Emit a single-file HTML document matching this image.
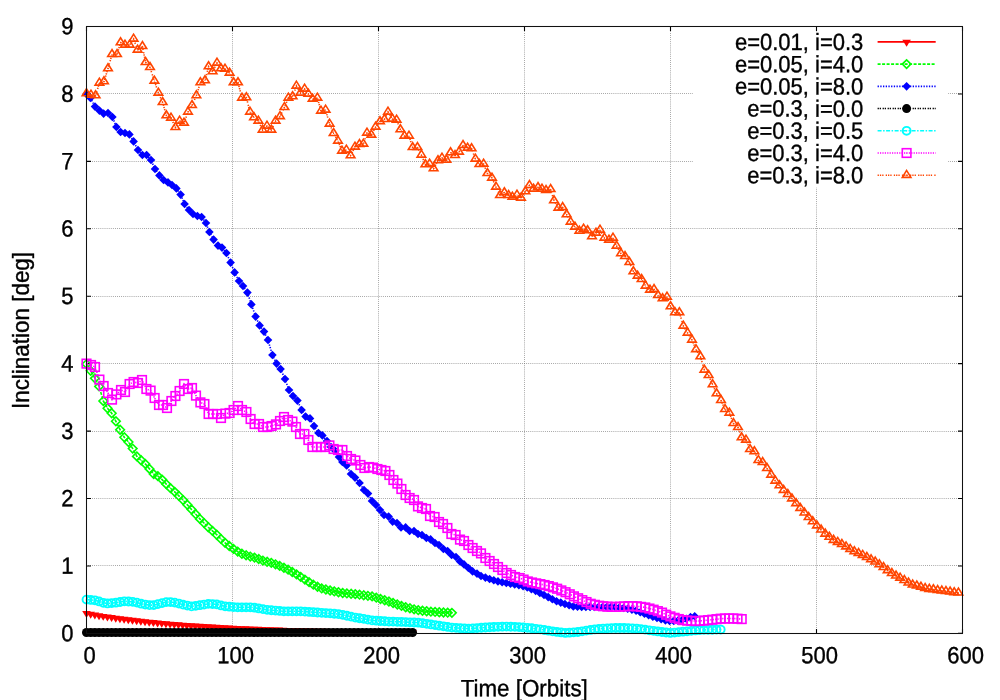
<!DOCTYPE html>
<html><head><meta charset="utf-8"><title>Inclination vs Time</title>
<style>
html,body{margin:0;padding:0;background:#fff;}
body{width:1000px;height:700px;overflow:hidden;}
svg{display:block;will-change:transform;opacity:0.999;}
text{font-family:"Liberation Sans",sans-serif;font-size:22px;fill:#000;stroke:#000;stroke-width:0.35px;}
</style></head><body>
<svg width="1000" height="700" viewBox="0 0 1000 700">
<rect x="0" y="0" width="1000" height="700" fill="#ffffff"/>
<g><path d="M88 565.50H962.5" stroke="#707070" stroke-width="0.75" stroke-dasharray="0.8,1.277" fill="none"/><path d="M88 498.50H962.5" stroke="#707070" stroke-width="0.75" stroke-dasharray="0.8,1.277" fill="none"/><path d="M88 431.50H962.5" stroke="#707070" stroke-width="0.75" stroke-dasharray="0.8,1.277" fill="none"/><path d="M88 363.50H962.5" stroke="#707070" stroke-width="0.75" stroke-dasharray="0.8,1.277" fill="none"/><path d="M88 296.50H962.5" stroke="#707070" stroke-width="0.75" stroke-dasharray="0.8,1.277" fill="none"/><path d="M88 228.50H962.5" stroke="#707070" stroke-width="0.75" stroke-dasharray="0.8,1.277" fill="none"/><path d="M88 161.50H962.5" stroke="#707070" stroke-width="0.75" stroke-dasharray="0.8,1.277" fill="none"/><path d="M88 93.50H962.5" stroke="#707070" stroke-width="0.75" stroke-dasharray="0.8,1.277" fill="none"/><path d="M232.50 632V26.5" stroke="#707070" stroke-width="0.75" stroke-dasharray="0.8,1.277" fill="none"/><path d="M378.50 632V26.5" stroke="#707070" stroke-width="0.75" stroke-dasharray="0.8,1.277" fill="none"/><path d="M524.50 632V26.5" stroke="#707070" stroke-width="0.75" stroke-dasharray="0.8,1.277" fill="none"/><path d="M670.50 632V26.5" stroke="#707070" stroke-width="0.75" stroke-dasharray="0.8,1.277" fill="none"/><path d="M816.50 632V26.5" stroke="#707070" stroke-width="0.75" stroke-dasharray="0.8,1.277" fill="none"/></g>
<g><path d="M86.5 633.40h4.5M962.5 633.40h-4.5" stroke="#000" stroke-width="1.1"/><text transform="translate(73.40,641.20) rotate(0.03) scale(1,1.07)" text-anchor="end">0</text><path d="M86.5 565.97h4.5M962.5 565.97h-4.5" stroke="#000" stroke-width="1.1"/><text transform="translate(73.40,573.77) rotate(0.03) scale(1,1.07)" text-anchor="end">1</text><path d="M86.5 498.53h4.5M962.5 498.53h-4.5" stroke="#000" stroke-width="1.1"/><text transform="translate(73.40,506.33) rotate(0.03) scale(1,1.07)" text-anchor="end">2</text><path d="M86.5 431.10h4.5M962.5 431.10h-4.5" stroke="#000" stroke-width="1.1"/><text transform="translate(73.40,438.90) rotate(0.03) scale(1,1.07)" text-anchor="end">3</text><path d="M86.5 363.67h4.5M962.5 363.67h-4.5" stroke="#000" stroke-width="1.1"/><text transform="translate(73.40,371.47) rotate(0.03) scale(1,1.07)" text-anchor="end">4</text><path d="M86.5 296.23h4.5M962.5 296.23h-4.5" stroke="#000" stroke-width="1.1"/><text transform="translate(73.40,304.03) rotate(0.03) scale(1,1.07)" text-anchor="end">5</text><path d="M86.5 228.80h4.5M962.5 228.80h-4.5" stroke="#000" stroke-width="1.1"/><text transform="translate(73.40,236.60) rotate(0.03) scale(1,1.07)" text-anchor="end">6</text><path d="M86.5 161.37h4.5M962.5 161.37h-4.5" stroke="#000" stroke-width="1.1"/><text transform="translate(73.40,169.17) rotate(0.03) scale(1,1.07)" text-anchor="end">7</text><path d="M86.5 93.93h4.5M962.5 93.93h-4.5" stroke="#000" stroke-width="1.1"/><text transform="translate(73.40,101.73) rotate(0.03) scale(1,1.07)" text-anchor="end">8</text><path d="M86.5 26.50h4.5M962.5 26.50h-4.5" stroke="#000" stroke-width="1.1"/><text transform="translate(73.40,34.30) rotate(0.03) scale(1,1.07)" text-anchor="end">9</text><path d="M86.50 633.5v-4.5M86.50 26.5v4.5" stroke="#000" stroke-width="1.1"/><text transform="translate(89.70,663.30) rotate(0.03) scale(1,1.07)" text-anchor="middle">0</text><path d="M232.50 633.5v-4.5M232.50 26.5v4.5" stroke="#000" stroke-width="1.1"/><text transform="translate(235.70,663.30) rotate(0.03) scale(1,1.07)" text-anchor="middle">100</text><path d="M378.50 633.5v-4.5M378.50 26.5v4.5" stroke="#000" stroke-width="1.1"/><text transform="translate(381.70,663.30) rotate(0.03) scale(1,1.07)" text-anchor="middle">200</text><path d="M524.50 633.5v-4.5M524.50 26.5v4.5" stroke="#000" stroke-width="1.1"/><text transform="translate(527.70,663.30) rotate(0.03) scale(1,1.07)" text-anchor="middle">300</text><path d="M670.50 633.5v-4.5M670.50 26.5v4.5" stroke="#000" stroke-width="1.1"/><text transform="translate(673.70,663.30) rotate(0.03) scale(1,1.07)" text-anchor="middle">400</text><path d="M816.50 633.5v-4.5M816.50 26.5v4.5" stroke="#000" stroke-width="1.1"/><text transform="translate(819.70,663.30) rotate(0.03) scale(1,1.07)" text-anchor="middle">500</text><path d="M962.50 633.5v-4.5M962.50 26.5v4.5" stroke="#000" stroke-width="1.1"/><text transform="translate(965.70,663.30) rotate(0.03) scale(1,1.07)" text-anchor="middle">600</text></g>
<g><path d="M86.50 613.27L90.68 614.00L94.86 614.70L99.04 615.38L103.22 616.03L107.40 616.66L111.58 617.27L115.76 617.85L119.94 618.42L124.12 618.96L128.30 619.48L132.48 619.99L136.66 620.48L140.84 620.95L145.02 621.40L149.20 621.83L153.38 622.25L157.56 622.66L161.74 623.05L165.92 623.43L170.10 623.79L174.28 624.14L178.46 624.48L182.64 624.80L186.82 625.12L191.00 625.42L195.18 625.71L199.36 625.99L203.54 626.26L207.72 626.52L211.90 626.77L216.08 627.02L220.26 627.25L224.44 627.47L228.62 627.69L232.80 627.90L236.98 628.10L241.16 628.30L245.34 628.48L249.52 628.67L253.70 628.84L257.88 629.01L262.06 629.17L266.24 629.33L270.42 629.48L274.60 629.62L278.78 629.76L282.96 629.90L287.14 630.03L291.32 630.15L295.50 630.27L299.68 630.39L303.86 630.50L308.04 630.61L312.22 630.71L316.40 630.81L320.58 630.91L324.76 631.00L328.94 631.09L333.12 631.18L337.30 631.26L341.48 631.34L345.66 631.42L349.84 631.50L354.02 631.57L358.20 631.64L362.38 631.71L366.56 631.77L370.74 631.83L374.92 631.89L379.10 631.95L383.28 632.01L387.46 632.06L391.64 632.11L395.82 632.16L400.00 632.21L404.18 632.26L408.36 632.30L412.54 632.34" fill="none" stroke="#ff0000" stroke-width="1.6"/><path d="M86.50 618.08L82.20 611.12L90.80 611.12Z" fill="#ff0000"/><path d="M90.68 618.81L86.38 611.85L94.98 611.85Z" fill="#ff0000"/><path d="M94.86 619.52L90.56 612.55L99.16 612.55Z" fill="#ff0000"/><path d="M99.04 620.19L94.74 613.23L103.34 613.23Z" fill="#ff0000"/><path d="M103.22 620.85L98.92 613.88L107.52 613.88Z" fill="#ff0000"/><path d="M107.40 621.48L103.10 614.51L111.70 614.51Z" fill="#ff0000"/><path d="M111.58 622.08L107.28 615.12L115.88 615.12Z" fill="#ff0000"/><path d="M115.76 622.67L111.46 615.70L120.06 615.70Z" fill="#ff0000"/><path d="M119.94 623.23L115.64 616.27L124.24 616.27Z" fill="#ff0000"/><path d="M124.12 623.78L119.82 616.81L128.42 616.81Z" fill="#ff0000"/><path d="M128.30 624.30L124.00 617.33L132.60 617.33Z" fill="#ff0000"/><path d="M132.48 624.80L128.18 617.84L136.78 617.84Z" fill="#ff0000"/><path d="M136.66 625.29L132.36 618.33L140.96 618.33Z" fill="#ff0000"/><path d="M140.84 625.76L136.54 618.80L145.14 618.80Z" fill="#ff0000"/><path d="M145.02 626.21L140.72 619.25L149.32 619.25Z" fill="#ff0000"/><path d="M149.20 626.65L144.90 619.68L153.50 619.68Z" fill="#ff0000"/><path d="M153.38 627.07L149.08 620.10L157.68 620.10Z" fill="#ff0000"/><path d="M157.56 627.48L153.26 620.51L161.86 620.51Z" fill="#ff0000"/><path d="M161.74 627.87L157.44 620.90L166.04 620.90Z" fill="#ff0000"/><path d="M165.92 628.24L161.62 621.28L170.22 621.28Z" fill="#ff0000"/><path d="M170.10 628.61L165.80 621.64L174.40 621.64Z" fill="#ff0000"/><path d="M174.28 628.96L169.98 621.99L178.58 621.99Z" fill="#ff0000"/><path d="M178.46 629.29L174.16 622.33L182.76 622.33Z" fill="#ff0000"/><path d="M182.64 629.62L178.34 622.65L186.94 622.65Z" fill="#ff0000"/><path d="M186.82 629.93L182.52 622.97L191.12 622.97Z" fill="#ff0000"/><path d="M191.00 630.23L186.70 623.27L195.30 623.27Z" fill="#ff0000"/><path d="M195.18 630.53L190.88 623.56L199.48 623.56Z" fill="#ff0000"/><path d="M199.36 630.81L195.06 623.84L203.66 623.84Z" fill="#ff0000"/><path d="M203.54 631.08L199.24 624.11L207.84 624.11Z" fill="#ff0000"/><path d="M207.72 631.34L203.42 624.37L212.02 624.37Z" fill="#ff0000"/><path d="M211.90 631.59L207.60 624.62L216.20 624.62Z" fill="#ff0000"/><path d="M216.08 631.83L211.78 624.87L220.38 624.87Z" fill="#ff0000"/><path d="M220.26 632.07L215.96 625.10L224.56 625.10Z" fill="#ff0000"/><path d="M224.44 632.29L220.14 625.32L228.74 625.32Z" fill="#ff0000"/><path d="M228.62 632.51L224.32 625.54L232.92 625.54Z" fill="#ff0000"/><path d="M232.80 632.72L228.50 625.75L237.10 625.75Z" fill="#ff0000"/><path d="M236.98 632.92L232.68 625.95L241.28 625.95Z" fill="#ff0000"/><path d="M241.16 633.11L236.86 626.15L245.46 626.15Z" fill="#ff0000"/><path d="M245.34 633.30L241.04 626.33L249.64 626.33Z" fill="#ff0000"/><path d="M249.52 633.48L245.22 626.52L253.82 626.52Z" fill="#ff0000"/><path d="M253.70 633.66L249.40 626.69L258.00 626.69Z" fill="#ff0000"/><path d="M257.88 633.82L253.58 626.86L262.18 626.86Z" fill="#ff0000"/><path d="M262.06 633.99L257.76 627.02L266.36 627.02Z" fill="#ff0000"/><path d="M266.24 634.14L261.94 627.18L270.54 627.18Z" fill="#ff0000"/><path d="M270.42 634.29L266.12 627.33L274.72 627.33Z" fill="#ff0000"/><path d="M274.60 634.44L270.30 627.47L278.90 627.47Z" fill="#ff0000"/><path d="M278.78 634.58L274.48 627.61L283.08 627.61Z" fill="#ff0000"/><path d="M282.96 634.71L278.66 627.75L287.26 627.75Z" fill="#ff0000"/><path d="M287.14 634.84L282.84 627.88L291.44 627.88Z" fill="#ff0000"/><path d="M291.32 634.97L287.02 628.00L295.62 628.00Z" fill="#ff0000"/><path d="M295.50 635.09L291.20 628.12L299.80 628.12Z" fill="#ff0000"/><path d="M299.68 635.20L295.38 628.24L303.98 628.24Z" fill="#ff0000"/><path d="M303.86 635.32L299.56 628.35L308.16 628.35Z" fill="#ff0000"/><path d="M308.04 635.42L303.74 628.46L312.34 628.46Z" fill="#ff0000"/><path d="M312.22 635.53L307.92 628.56L316.52 628.56Z" fill="#ff0000"/><path d="M316.40 635.63L312.10 628.66L320.70 628.66Z" fill="#ff0000"/><path d="M320.58 635.73L316.28 628.76L324.88 628.76Z" fill="#ff0000"/><path d="M324.76 635.82L320.46 628.85L329.06 628.85Z" fill="#ff0000"/><path d="M328.94 635.91L324.64 628.94L333.24 628.94Z" fill="#ff0000"/><path d="M333.12 636.00L328.82 629.03L337.42 629.03Z" fill="#ff0000"/><path d="M337.30 636.08L333.00 629.11L341.60 629.11Z" fill="#ff0000"/><path d="M341.48 636.16L337.18 629.19L345.78 629.19Z" fill="#ff0000"/><path d="M345.66 636.24L341.36 629.27L349.96 629.27Z" fill="#ff0000"/><path d="M349.84 636.31L345.54 629.35L354.14 629.35Z" fill="#ff0000"/><path d="M354.02 636.38L349.72 629.42L358.32 629.42Z" fill="#ff0000"/><path d="M358.20 636.45L353.90 629.49L362.50 629.49Z" fill="#ff0000"/><path d="M362.38 636.52L358.08 629.56L366.68 629.56Z" fill="#ff0000"/><path d="M366.56 636.59L362.26 629.62L370.86 629.62Z" fill="#ff0000"/><path d="M370.74 636.65L366.44 629.68L375.04 629.68Z" fill="#ff0000"/><path d="M374.92 636.71L370.62 629.74L379.22 629.74Z" fill="#ff0000"/><path d="M379.10 636.77L374.80 629.80L383.40 629.80Z" fill="#ff0000"/><path d="M383.28 636.82L378.98 629.86L387.58 629.86Z" fill="#ff0000"/><path d="M387.46 636.88L383.16 629.91L391.76 629.91Z" fill="#ff0000"/><path d="M391.64 636.93L387.34 629.96L395.94 629.96Z" fill="#ff0000"/><path d="M395.82 636.98L391.52 630.01L400.12 630.01Z" fill="#ff0000"/><path d="M400.00 637.03L395.70 630.06L404.30 630.06Z" fill="#ff0000"/><path d="M404.18 637.07L399.88 630.11L408.48 630.11Z" fill="#ff0000"/><path d="M408.36 637.12L404.06 630.15L412.66 630.15Z" fill="#ff0000"/><path d="M412.54 637.16L408.24 630.19L416.84 630.19Z" fill="#ff0000"/></g>
<g><path d="M86.50 364.00L90.70 370.84L94.90 378.32L99.10 386.42L103.30 401.01L107.50 408.20L111.70 413.27L115.90 421.29L120.10 429.70L124.30 437.28L128.50 442.00L132.70 448.60L136.90 456.38L141.10 460.30L145.30 463.89L149.50 468.88L153.70 474.12L157.90 476.14L162.10 479.60L166.30 484.13L170.50 488.19L174.70 491.86L178.90 495.90L183.10 500.10L187.30 504.71L191.50 509.44L195.70 514.16L199.90 518.89L204.10 523.10L208.30 527.26L212.50 530.94L216.70 534.70L220.90 538.90L225.10 542.83L229.30 545.98L233.50 548.94L237.70 551.56L241.90 553.71L246.10 555.29L250.30 556.58L254.50 557.62L258.70 559.01L262.90 560.59L267.10 561.77L271.30 562.83L275.50 564.31L279.70 565.89L283.90 567.75L288.10 569.66L292.30 571.97L296.50 574.31L300.70 576.94L304.90 579.56L309.10 582.19L313.30 584.65L317.50 586.75L321.70 588.42L325.90 589.48L330.10 590.47L334.30 591.42L338.50 592.24L342.70 592.97L346.90 593.44L351.10 593.79L355.30 594.14L359.50 594.68L363.70 595.26L367.90 595.84L372.10 596.43L376.30 597.69L380.50 598.95L384.70 600.21L388.90 601.52L393.10 602.99L397.30 604.46L401.50 605.92L405.70 607.22L409.90 608.27L414.10 609.33L418.30 610.19L422.50 610.71L426.70 611.24L430.90 611.68L435.10 611.94L439.30 612.21L443.50 612.45L447.70 612.65L451.90 612.86" fill="none" stroke="#00ff00" stroke-width="1.6" stroke-dasharray="3,1.5"/><path d="M86.50 359.70L82.20 364.00L86.50 368.30L90.80 364.00Z" fill="none" stroke="#00ff00" stroke-width="1.6"/><circle cx="86.50" cy="364.00" r="0.6" fill="#00ff00"/><path d="M90.70 366.54L86.40 370.84L90.70 375.14L95.00 370.84Z" fill="none" stroke="#00ff00" stroke-width="1.6"/><circle cx="90.70" cy="370.84" r="0.6" fill="#00ff00"/><path d="M94.90 374.02L90.60 378.32L94.90 382.62L99.20 378.32Z" fill="none" stroke="#00ff00" stroke-width="1.6"/><circle cx="94.90" cy="378.32" r="0.6" fill="#00ff00"/><path d="M99.10 382.12L94.80 386.42L99.10 390.72L103.40 386.42Z" fill="none" stroke="#00ff00" stroke-width="1.6"/><circle cx="99.10" cy="386.42" r="0.6" fill="#00ff00"/><path d="M103.30 396.71L99.00 401.01L103.30 405.31L107.60 401.01Z" fill="none" stroke="#00ff00" stroke-width="1.6"/><circle cx="103.30" cy="401.01" r="0.6" fill="#00ff00"/><path d="M107.50 403.90L103.20 408.20L107.50 412.50L111.80 408.20Z" fill="none" stroke="#00ff00" stroke-width="1.6"/><circle cx="107.50" cy="408.20" r="0.6" fill="#00ff00"/><path d="M111.70 408.97L107.40 413.27L111.70 417.57L116.00 413.27Z" fill="none" stroke="#00ff00" stroke-width="1.6"/><circle cx="111.70" cy="413.27" r="0.6" fill="#00ff00"/><path d="M115.90 416.99L111.60 421.29L115.90 425.59L120.20 421.29Z" fill="none" stroke="#00ff00" stroke-width="1.6"/><circle cx="115.90" cy="421.29" r="0.6" fill="#00ff00"/><path d="M120.10 425.40L115.80 429.70L120.10 434.00L124.40 429.70Z" fill="none" stroke="#00ff00" stroke-width="1.6"/><circle cx="120.10" cy="429.70" r="0.6" fill="#00ff00"/><path d="M124.30 432.98L120.00 437.28L124.30 441.58L128.60 437.28Z" fill="none" stroke="#00ff00" stroke-width="1.6"/><circle cx="124.30" cy="437.28" r="0.6" fill="#00ff00"/><path d="M128.50 437.70L124.20 442.00L128.50 446.30L132.80 442.00Z" fill="none" stroke="#00ff00" stroke-width="1.6"/><circle cx="128.50" cy="442.00" r="0.6" fill="#00ff00"/><path d="M132.70 444.30L128.40 448.60L132.70 452.90L137.00 448.60Z" fill="none" stroke="#00ff00" stroke-width="1.6"/><circle cx="132.70" cy="448.60" r="0.6" fill="#00ff00"/><path d="M136.90 452.07L132.60 456.38L136.90 460.68L141.20 456.38Z" fill="none" stroke="#00ff00" stroke-width="1.6"/><circle cx="136.90" cy="456.38" r="0.6" fill="#00ff00"/><path d="M141.10 456.00L136.80 460.30L141.10 464.60L145.40 460.30Z" fill="none" stroke="#00ff00" stroke-width="1.6"/><circle cx="141.10" cy="460.30" r="0.6" fill="#00ff00"/><path d="M145.30 459.59L141.00 463.89L145.30 468.19L149.60 463.89Z" fill="none" stroke="#00ff00" stroke-width="1.6"/><circle cx="145.30" cy="463.89" r="0.6" fill="#00ff00"/><path d="M149.50 464.57L145.20 468.88L149.50 473.18L153.80 468.88Z" fill="none" stroke="#00ff00" stroke-width="1.6"/><circle cx="149.50" cy="468.88" r="0.6" fill="#00ff00"/><path d="M153.70 469.82L149.40 474.12L153.70 478.43L158.00 474.12Z" fill="none" stroke="#00ff00" stroke-width="1.6"/><circle cx="153.70" cy="474.12" r="0.6" fill="#00ff00"/><path d="M157.90 471.84L153.60 476.14L157.90 480.44L162.20 476.14Z" fill="none" stroke="#00ff00" stroke-width="1.6"/><circle cx="157.90" cy="476.14" r="0.6" fill="#00ff00"/><path d="M162.10 475.30L157.80 479.60L162.10 483.90L166.40 479.60Z" fill="none" stroke="#00ff00" stroke-width="1.6"/><circle cx="162.10" cy="479.60" r="0.6" fill="#00ff00"/><path d="M166.30 479.83L162.00 484.13L166.30 488.43L170.60 484.13Z" fill="none" stroke="#00ff00" stroke-width="1.6"/><circle cx="166.30" cy="484.13" r="0.6" fill="#00ff00"/><path d="M170.50 483.89L166.20 488.19L170.50 492.49L174.80 488.19Z" fill="none" stroke="#00ff00" stroke-width="1.6"/><circle cx="170.50" cy="488.19" r="0.6" fill="#00ff00"/><path d="M174.70 487.56L170.40 491.86L174.70 496.16L179.00 491.86Z" fill="none" stroke="#00ff00" stroke-width="1.6"/><circle cx="174.70" cy="491.86" r="0.6" fill="#00ff00"/><path d="M178.90 491.60L174.60 495.90L178.90 500.20L183.20 495.90Z" fill="none" stroke="#00ff00" stroke-width="1.6"/><circle cx="178.90" cy="495.90" r="0.6" fill="#00ff00"/><path d="M183.10 495.80L178.80 500.10L183.10 504.40L187.40 500.10Z" fill="none" stroke="#00ff00" stroke-width="1.6"/><circle cx="183.10" cy="500.10" r="0.6" fill="#00ff00"/><path d="M187.30 500.41L183.00 504.71L187.30 509.01L191.60 504.71Z" fill="none" stroke="#00ff00" stroke-width="1.6"/><circle cx="187.30" cy="504.71" r="0.6" fill="#00ff00"/><path d="M191.50 505.14L187.20 509.44L191.50 513.74L195.80 509.44Z" fill="none" stroke="#00ff00" stroke-width="1.6"/><circle cx="191.50" cy="509.44" r="0.6" fill="#00ff00"/><path d="M195.70 509.86L191.40 514.16L195.70 518.46L200.00 514.16Z" fill="none" stroke="#00ff00" stroke-width="1.6"/><circle cx="195.70" cy="514.16" r="0.6" fill="#00ff00"/><path d="M199.90 514.59L195.60 518.89L199.90 523.19L204.20 518.89Z" fill="none" stroke="#00ff00" stroke-width="1.6"/><circle cx="199.90" cy="518.89" r="0.6" fill="#00ff00"/><path d="M204.10 518.80L199.80 523.10L204.10 527.40L208.40 523.10Z" fill="none" stroke="#00ff00" stroke-width="1.6"/><circle cx="204.10" cy="523.10" r="0.6" fill="#00ff00"/><path d="M208.30 522.96L204.00 527.26L208.30 531.56L212.60 527.26Z" fill="none" stroke="#00ff00" stroke-width="1.6"/><circle cx="208.30" cy="527.26" r="0.6" fill="#00ff00"/><path d="M212.50 526.64L208.20 530.94L212.50 535.24L216.80 530.94Z" fill="none" stroke="#00ff00" stroke-width="1.6"/><circle cx="212.50" cy="530.94" r="0.6" fill="#00ff00"/><path d="M216.70 530.40L212.40 534.70L216.70 539.00L221.00 534.70Z" fill="none" stroke="#00ff00" stroke-width="1.6"/><circle cx="216.70" cy="534.70" r="0.6" fill="#00ff00"/><path d="M220.90 534.60L216.60 538.90L220.90 543.20L225.20 538.90Z" fill="none" stroke="#00ff00" stroke-width="1.6"/><circle cx="220.90" cy="538.90" r="0.6" fill="#00ff00"/><path d="M225.10 538.53L220.80 542.83L225.10 547.12L229.40 542.83Z" fill="none" stroke="#00ff00" stroke-width="1.6"/><circle cx="225.10" cy="542.83" r="0.6" fill="#00ff00"/><path d="M229.30 541.68L225.00 545.98L229.30 550.27L233.60 545.98Z" fill="none" stroke="#00ff00" stroke-width="1.6"/><circle cx="229.30" cy="545.98" r="0.6" fill="#00ff00"/><path d="M233.50 544.64L229.20 548.94L233.50 553.24L237.80 548.94Z" fill="none" stroke="#00ff00" stroke-width="1.6"/><circle cx="233.50" cy="548.94" r="0.6" fill="#00ff00"/><path d="M237.70 547.26L233.40 551.56L237.70 555.86L242.00 551.56Z" fill="none" stroke="#00ff00" stroke-width="1.6"/><circle cx="237.70" cy="551.56" r="0.6" fill="#00ff00"/><path d="M241.90 549.41L237.60 553.71L241.90 558.01L246.20 553.71Z" fill="none" stroke="#00ff00" stroke-width="1.6"/><circle cx="241.90" cy="553.71" r="0.6" fill="#00ff00"/><path d="M246.10 550.99L241.80 555.29L246.10 559.59L250.40 555.29Z" fill="none" stroke="#00ff00" stroke-width="1.6"/><circle cx="246.10" cy="555.29" r="0.6" fill="#00ff00"/><path d="M250.30 552.28L246.00 556.58L250.30 560.88L254.60 556.58Z" fill="none" stroke="#00ff00" stroke-width="1.6"/><circle cx="250.30" cy="556.58" r="0.6" fill="#00ff00"/><path d="M254.50 553.33L250.20 557.62L254.50 561.92L258.80 557.62Z" fill="none" stroke="#00ff00" stroke-width="1.6"/><circle cx="254.50" cy="557.62" r="0.6" fill="#00ff00"/><path d="M258.70 554.71L254.40 559.01L258.70 563.31L263.00 559.01Z" fill="none" stroke="#00ff00" stroke-width="1.6"/><circle cx="258.70" cy="559.01" r="0.6" fill="#00ff00"/><path d="M262.90 556.29L258.60 560.59L262.90 564.89L267.20 560.59Z" fill="none" stroke="#00ff00" stroke-width="1.6"/><circle cx="262.90" cy="560.59" r="0.6" fill="#00ff00"/><path d="M267.10 557.48L262.80 561.77L267.10 566.07L271.40 561.77Z" fill="none" stroke="#00ff00" stroke-width="1.6"/><circle cx="267.10" cy="561.77" r="0.6" fill="#00ff00"/><path d="M271.30 558.53L267.00 562.83L271.30 567.12L275.60 562.83Z" fill="none" stroke="#00ff00" stroke-width="1.6"/><circle cx="271.30" cy="562.83" r="0.6" fill="#00ff00"/><path d="M275.50 560.01L271.20 564.31L275.50 568.61L279.80 564.31Z" fill="none" stroke="#00ff00" stroke-width="1.6"/><circle cx="275.50" cy="564.31" r="0.6" fill="#00ff00"/><path d="M279.70 561.59L275.40 565.89L279.70 570.19L284.00 565.89Z" fill="none" stroke="#00ff00" stroke-width="1.6"/><circle cx="279.70" cy="565.89" r="0.6" fill="#00ff00"/><path d="M283.90 563.46L279.60 567.75L283.90 572.05L288.20 567.75Z" fill="none" stroke="#00ff00" stroke-width="1.6"/><circle cx="283.90" cy="567.75" r="0.6" fill="#00ff00"/><path d="M288.10 565.36L283.80 569.66L288.10 573.96L292.40 569.66Z" fill="none" stroke="#00ff00" stroke-width="1.6"/><circle cx="288.10" cy="569.66" r="0.6" fill="#00ff00"/><path d="M292.30 567.67L288.00 571.97L292.30 576.26L296.60 571.97Z" fill="none" stroke="#00ff00" stroke-width="1.6"/><circle cx="292.30" cy="571.97" r="0.6" fill="#00ff00"/><path d="M296.50 570.01L292.20 574.31L296.50 578.61L300.80 574.31Z" fill="none" stroke="#00ff00" stroke-width="1.6"/><circle cx="296.50" cy="574.31" r="0.6" fill="#00ff00"/><path d="M300.70 572.64L296.40 576.94L300.70 581.24L305.00 576.94Z" fill="none" stroke="#00ff00" stroke-width="1.6"/><circle cx="300.70" cy="576.94" r="0.6" fill="#00ff00"/><path d="M304.90 575.26L300.60 579.56L304.90 583.86L309.20 579.56Z" fill="none" stroke="#00ff00" stroke-width="1.6"/><circle cx="304.90" cy="579.56" r="0.6" fill="#00ff00"/><path d="M309.10 577.89L304.80 582.19L309.10 586.49L313.40 582.19Z" fill="none" stroke="#00ff00" stroke-width="1.6"/><circle cx="309.10" cy="582.19" r="0.6" fill="#00ff00"/><path d="M313.30 580.35L309.00 584.65L313.30 588.95L317.60 584.65Z" fill="none" stroke="#00ff00" stroke-width="1.6"/><circle cx="313.30" cy="584.65" r="0.6" fill="#00ff00"/><path d="M317.50 582.45L313.20 586.75L317.50 591.05L321.80 586.75Z" fill="none" stroke="#00ff00" stroke-width="1.6"/><circle cx="317.50" cy="586.75" r="0.6" fill="#00ff00"/><path d="M321.70 584.12L317.40 588.42L321.70 592.72L326.00 588.42Z" fill="none" stroke="#00ff00" stroke-width="1.6"/><circle cx="321.70" cy="588.42" r="0.6" fill="#00ff00"/><path d="M325.90 585.18L321.60 589.48L325.90 593.77L330.20 589.48Z" fill="none" stroke="#00ff00" stroke-width="1.6"/><circle cx="325.90" cy="589.48" r="0.6" fill="#00ff00"/><path d="M330.10 586.17L325.80 590.47L330.10 594.77L334.40 590.47Z" fill="none" stroke="#00ff00" stroke-width="1.6"/><circle cx="330.10" cy="590.47" r="0.6" fill="#00ff00"/><path d="M334.30 587.12L330.00 591.42L334.30 595.72L338.60 591.42Z" fill="none" stroke="#00ff00" stroke-width="1.6"/><circle cx="334.30" cy="591.42" r="0.6" fill="#00ff00"/><path d="M338.50 587.94L334.20 592.24L338.50 596.54L342.80 592.24Z" fill="none" stroke="#00ff00" stroke-width="1.6"/><circle cx="338.50" cy="592.24" r="0.6" fill="#00ff00"/><path d="M342.70 588.67L338.40 592.97L342.70 597.27L347.00 592.97Z" fill="none" stroke="#00ff00" stroke-width="1.6"/><circle cx="342.70" cy="592.97" r="0.6" fill="#00ff00"/><path d="M346.90 589.14L342.60 593.44L346.90 597.74L351.20 593.44Z" fill="none" stroke="#00ff00" stroke-width="1.6"/><circle cx="346.90" cy="593.44" r="0.6" fill="#00ff00"/><path d="M351.10 589.49L346.80 593.79L351.10 598.09L355.40 593.79Z" fill="none" stroke="#00ff00" stroke-width="1.6"/><circle cx="351.10" cy="593.79" r="0.6" fill="#00ff00"/><path d="M355.30 589.84L351.00 594.14L355.30 598.44L359.60 594.14Z" fill="none" stroke="#00ff00" stroke-width="1.6"/><circle cx="355.30" cy="594.14" r="0.6" fill="#00ff00"/><path d="M359.50 590.38L355.20 594.68L359.50 598.98L363.80 594.68Z" fill="none" stroke="#00ff00" stroke-width="1.6"/><circle cx="359.50" cy="594.68" r="0.6" fill="#00ff00"/><path d="M363.70 590.96L359.40 595.26L363.70 599.56L368.00 595.26Z" fill="none" stroke="#00ff00" stroke-width="1.6"/><circle cx="363.70" cy="595.26" r="0.6" fill="#00ff00"/><path d="M367.90 591.54L363.60 595.84L367.90 600.14L372.20 595.84Z" fill="none" stroke="#00ff00" stroke-width="1.6"/><circle cx="367.90" cy="595.84" r="0.6" fill="#00ff00"/><path d="M372.10 592.13L367.80 596.43L372.10 600.73L376.40 596.43Z" fill="none" stroke="#00ff00" stroke-width="1.6"/><circle cx="372.10" cy="596.43" r="0.6" fill="#00ff00"/><path d="M376.30 593.39L372.00 597.69L376.30 601.99L380.60 597.69Z" fill="none" stroke="#00ff00" stroke-width="1.6"/><circle cx="376.30" cy="597.69" r="0.6" fill="#00ff00"/><path d="M380.50 594.65L376.20 598.95L380.50 603.25L384.80 598.95Z" fill="none" stroke="#00ff00" stroke-width="1.6"/><circle cx="380.50" cy="598.95" r="0.6" fill="#00ff00"/><path d="M384.70 595.91L380.40 600.21L384.70 604.51L389.00 600.21Z" fill="none" stroke="#00ff00" stroke-width="1.6"/><circle cx="384.70" cy="600.21" r="0.6" fill="#00ff00"/><path d="M388.90 597.22L384.60 601.52L388.90 605.82L393.20 601.52Z" fill="none" stroke="#00ff00" stroke-width="1.6"/><circle cx="388.90" cy="601.52" r="0.6" fill="#00ff00"/><path d="M393.10 598.69L388.80 602.99L393.10 607.28L397.40 602.99Z" fill="none" stroke="#00ff00" stroke-width="1.6"/><circle cx="393.10" cy="602.99" r="0.6" fill="#00ff00"/><path d="M397.30 600.16L393.00 604.46L397.30 608.75L401.60 604.46Z" fill="none" stroke="#00ff00" stroke-width="1.6"/><circle cx="397.30" cy="604.46" r="0.6" fill="#00ff00"/><path d="M401.50 601.62L397.20 605.92L401.50 610.22L405.80 605.92Z" fill="none" stroke="#00ff00" stroke-width="1.6"/><circle cx="401.50" cy="605.92" r="0.6" fill="#00ff00"/><path d="M405.70 602.92L401.40 607.22L405.70 611.52L410.00 607.22Z" fill="none" stroke="#00ff00" stroke-width="1.6"/><circle cx="405.70" cy="607.22" r="0.6" fill="#00ff00"/><path d="M409.90 603.98L405.60 608.27L409.90 612.57L414.20 608.27Z" fill="none" stroke="#00ff00" stroke-width="1.6"/><circle cx="409.90" cy="608.27" r="0.6" fill="#00ff00"/><path d="M414.10 605.03L409.80 609.33L414.10 613.62L418.40 609.33Z" fill="none" stroke="#00ff00" stroke-width="1.6"/><circle cx="414.10" cy="609.33" r="0.6" fill="#00ff00"/><path d="M418.30 605.89L414.00 610.19L418.30 614.49L422.60 610.19Z" fill="none" stroke="#00ff00" stroke-width="1.6"/><circle cx="418.30" cy="610.19" r="0.6" fill="#00ff00"/><path d="M422.50 606.41L418.20 610.71L422.50 615.01L426.80 610.71Z" fill="none" stroke="#00ff00" stroke-width="1.6"/><circle cx="422.50" cy="610.71" r="0.6" fill="#00ff00"/><path d="M426.70 606.94L422.40 611.24L426.70 615.54L431.00 611.24Z" fill="none" stroke="#00ff00" stroke-width="1.6"/><circle cx="426.70" cy="611.24" r="0.6" fill="#00ff00"/><path d="M430.90 607.38L426.60 611.68L430.90 615.98L435.20 611.68Z" fill="none" stroke="#00ff00" stroke-width="1.6"/><circle cx="430.90" cy="611.68" r="0.6" fill="#00ff00"/><path d="M435.10 607.64L430.80 611.94L435.10 616.24L439.40 611.94Z" fill="none" stroke="#00ff00" stroke-width="1.6"/><circle cx="435.10" cy="611.94" r="0.6" fill="#00ff00"/><path d="M439.30 607.91L435.00 612.21L439.30 616.51L443.60 612.21Z" fill="none" stroke="#00ff00" stroke-width="1.6"/><circle cx="439.30" cy="612.21" r="0.6" fill="#00ff00"/><path d="M443.50 608.15L439.20 612.45L443.50 616.75L447.80 612.45Z" fill="none" stroke="#00ff00" stroke-width="1.6"/><circle cx="443.50" cy="612.45" r="0.6" fill="#00ff00"/><path d="M447.70 608.35L443.40 612.65L447.70 616.95L452.00 612.65Z" fill="none" stroke="#00ff00" stroke-width="1.6"/><circle cx="447.70" cy="612.65" r="0.6" fill="#00ff00"/><path d="M451.90 608.56L447.60 612.86L451.90 617.16L456.20 612.86Z" fill="none" stroke="#00ff00" stroke-width="1.6"/><circle cx="451.90" cy="612.86" r="0.6" fill="#00ff00"/></g>
<g><path d="M86.50 94.00L90.40 98.00L95.00 106.60L99.40 110.60L103.60 113.60L108.00 113.00L112.40 117.00L116.40 127.00L120.60 132.00L125.00 133.00L129.40 134.40L133.60 141.40L138.00 150.00L142.40 155.00L146.60 155.00L151.00 160.00L155.00 169.00L159.40 175.40L163.60 180.00L168.00 182.40L172.00 185.00L176.40 188.40L180.60 194.60L184.60 204.00L189.00 210.00L193.00 214.00L197.40 216.00L201.60 217.00L206.00 223.00L209.40 232.00L213.60 239.60L218.00 245.60L222.00 247.60L226.40 253.00L230.60 262.60L234.60 272.40L239.00 281.00L243.00 286.00L247.40 292.60L251.40 304.40L255.60 316.60L259.60 325.40L264.00 331.60L268.00 340.00L272.40 355.00L276.60 363.60L280.60 369.00L285.00 379.00L289.00 390.00L293.00 396.00L297.40 400.60L301.60 410.00L305.60 416.60L310.00 418.40L314.00 426.00L318.40 433.00L322.40 435.40L327.00 441.00L331.00 447.00L335.40 451.00L339.00 457.00L342.40 462.00L346.60 465.40L351.00 474.00L355.00 477.60L359.60 483.00L364.00 490.00L368.00 493.60L372.00 501.00L376.00 505.00L380.00 510.00L384.00 515.00L388.60 516.60L392.60 521.60L397.00 523.00L401.00 527.40L405.60 527.40L409.60 531.00L414.00 531.00L418.00 534.00L422.00 535.00L426.40 538.00L430.60 539.40L435.00 543.00L439.00 545.00L443.40 549.00L447.60 551.00L451.60 555.00L456.00 557.00L460.00 561.40L464.00 564.40L468.40 568.00L472.60 571.40L477.00 573.60L481.00 576.00L485.40 577.60L489.60 579.00L493.79 580.31L497.97 581.39L502.16 582.23L506.34 583.05L510.53 583.72L514.71 584.39L518.90 585.30L523.09 586.30L527.27 587.51L531.46 589.18L535.64 590.86L539.83 592.91L544.01 595.01L548.20 597.10L552.39 599.19L556.57 601.19L560.76 602.62L564.94 604.04L569.13 605.26L573.31 606.41L577.50 606.74L581.69 606.91L585.87 607.00L590.06 607.00L594.24 607.00L598.43 607.00L602.61 607.00L606.80 607.00L610.99 607.00L615.17 607.12L619.36 607.54L623.54 607.95L627.73 608.75L631.91 609.58L636.10 610.74L640.29 612.20L644.47 613.67L648.66 615.19L652.84 616.67L657.03 618.03L661.21 619.30L665.40 620.35L669.59 621.00L673.77 621.00L677.96 620.66L682.14 619.93L686.33 618.73L690.51 617.16L694.70 616.31" fill="none" stroke="#0000ff" stroke-width="1.6" stroke-dasharray="1.3,1.4"/><path d="M86.50 89.70L82.20 94.00L86.50 98.30L90.80 94.00Z" fill="#0000ff"/><path d="M90.40 93.70L86.10 98.00L90.40 102.30L94.70 98.00Z" fill="#0000ff"/><path d="M95.00 102.30L90.70 106.60L95.00 110.90L99.30 106.60Z" fill="#0000ff"/><path d="M99.40 106.30L95.10 110.60L99.40 114.90L103.70 110.60Z" fill="#0000ff"/><path d="M103.60 109.30L99.30 113.60L103.60 117.90L107.90 113.60Z" fill="#0000ff"/><path d="M108.00 108.70L103.70 113.00L108.00 117.30L112.30 113.00Z" fill="#0000ff"/><path d="M112.40 112.70L108.10 117.00L112.40 121.30L116.70 117.00Z" fill="#0000ff"/><path d="M116.40 122.70L112.10 127.00L116.40 131.30L120.70 127.00Z" fill="#0000ff"/><path d="M120.60 127.70L116.30 132.00L120.60 136.30L124.90 132.00Z" fill="#0000ff"/><path d="M125.00 128.70L120.70 133.00L125.00 137.30L129.30 133.00Z" fill="#0000ff"/><path d="M129.40 130.10L125.10 134.40L129.40 138.70L133.70 134.40Z" fill="#0000ff"/><path d="M133.60 137.10L129.30 141.40L133.60 145.70L137.90 141.40Z" fill="#0000ff"/><path d="M138.00 145.70L133.70 150.00L138.00 154.30L142.30 150.00Z" fill="#0000ff"/><path d="M142.40 150.70L138.10 155.00L142.40 159.30L146.70 155.00Z" fill="#0000ff"/><path d="M146.60 150.70L142.30 155.00L146.60 159.30L150.90 155.00Z" fill="#0000ff"/><path d="M151.00 155.70L146.70 160.00L151.00 164.30L155.30 160.00Z" fill="#0000ff"/><path d="M155.00 164.70L150.70 169.00L155.00 173.30L159.30 169.00Z" fill="#0000ff"/><path d="M159.40 171.10L155.10 175.40L159.40 179.70L163.70 175.40Z" fill="#0000ff"/><path d="M163.60 175.70L159.30 180.00L163.60 184.30L167.90 180.00Z" fill="#0000ff"/><path d="M168.00 178.10L163.70 182.40L168.00 186.70L172.30 182.40Z" fill="#0000ff"/><path d="M172.00 180.70L167.70 185.00L172.00 189.30L176.30 185.00Z" fill="#0000ff"/><path d="M176.40 184.10L172.10 188.40L176.40 192.70L180.70 188.40Z" fill="#0000ff"/><path d="M180.60 190.30L176.30 194.60L180.60 198.90L184.90 194.60Z" fill="#0000ff"/><path d="M184.60 199.70L180.30 204.00L184.60 208.30L188.90 204.00Z" fill="#0000ff"/><path d="M189.00 205.70L184.70 210.00L189.00 214.30L193.30 210.00Z" fill="#0000ff"/><path d="M193.00 209.70L188.70 214.00L193.00 218.30L197.30 214.00Z" fill="#0000ff"/><path d="M197.40 211.70L193.10 216.00L197.40 220.30L201.70 216.00Z" fill="#0000ff"/><path d="M201.60 212.70L197.30 217.00L201.60 221.30L205.90 217.00Z" fill="#0000ff"/><path d="M206.00 218.70L201.70 223.00L206.00 227.30L210.30 223.00Z" fill="#0000ff"/><path d="M209.40 227.70L205.10 232.00L209.40 236.30L213.70 232.00Z" fill="#0000ff"/><path d="M213.60 235.30L209.30 239.60L213.60 243.90L217.90 239.60Z" fill="#0000ff"/><path d="M218.00 241.30L213.70 245.60L218.00 249.90L222.30 245.60Z" fill="#0000ff"/><path d="M222.00 243.30L217.70 247.60L222.00 251.90L226.30 247.60Z" fill="#0000ff"/><path d="M226.40 248.70L222.10 253.00L226.40 257.30L230.70 253.00Z" fill="#0000ff"/><path d="M230.60 258.30L226.30 262.60L230.60 266.90L234.90 262.60Z" fill="#0000ff"/><path d="M234.60 268.10L230.30 272.40L234.60 276.70L238.90 272.40Z" fill="#0000ff"/><path d="M239.00 276.70L234.70 281.00L239.00 285.30L243.30 281.00Z" fill="#0000ff"/><path d="M243.00 281.70L238.70 286.00L243.00 290.30L247.30 286.00Z" fill="#0000ff"/><path d="M247.40 288.30L243.10 292.60L247.40 296.90L251.70 292.60Z" fill="#0000ff"/><path d="M251.40 300.10L247.10 304.40L251.40 308.70L255.70 304.40Z" fill="#0000ff"/><path d="M255.60 312.30L251.30 316.60L255.60 320.90L259.90 316.60Z" fill="#0000ff"/><path d="M259.60 321.10L255.30 325.40L259.60 329.70L263.90 325.40Z" fill="#0000ff"/><path d="M264.00 327.30L259.70 331.60L264.00 335.90L268.30 331.60Z" fill="#0000ff"/><path d="M268.00 335.70L263.70 340.00L268.00 344.30L272.30 340.00Z" fill="#0000ff"/><path d="M272.40 350.70L268.10 355.00L272.40 359.30L276.70 355.00Z" fill="#0000ff"/><path d="M276.60 359.30L272.30 363.60L276.60 367.90L280.90 363.60Z" fill="#0000ff"/><path d="M280.60 364.70L276.30 369.00L280.60 373.30L284.90 369.00Z" fill="#0000ff"/><path d="M285.00 374.70L280.70 379.00L285.00 383.30L289.30 379.00Z" fill="#0000ff"/><path d="M289.00 385.70L284.70 390.00L289.00 394.30L293.30 390.00Z" fill="#0000ff"/><path d="M293.00 391.70L288.70 396.00L293.00 400.30L297.30 396.00Z" fill="#0000ff"/><path d="M297.40 396.30L293.10 400.60L297.40 404.90L301.70 400.60Z" fill="#0000ff"/><path d="M301.60 405.70L297.30 410.00L301.60 414.30L305.90 410.00Z" fill="#0000ff"/><path d="M305.60 412.30L301.30 416.60L305.60 420.90L309.90 416.60Z" fill="#0000ff"/><path d="M310.00 414.10L305.70 418.40L310.00 422.70L314.30 418.40Z" fill="#0000ff"/><path d="M314.00 421.70L309.70 426.00L314.00 430.30L318.30 426.00Z" fill="#0000ff"/><path d="M318.40 428.70L314.10 433.00L318.40 437.30L322.70 433.00Z" fill="#0000ff"/><path d="M322.40 431.10L318.10 435.40L322.40 439.70L326.70 435.40Z" fill="#0000ff"/><path d="M327.00 436.70L322.70 441.00L327.00 445.30L331.30 441.00Z" fill="#0000ff"/><path d="M331.00 442.70L326.70 447.00L331.00 451.30L335.30 447.00Z" fill="#0000ff"/><path d="M335.40 446.70L331.10 451.00L335.40 455.30L339.70 451.00Z" fill="#0000ff"/><path d="M339.00 452.70L334.70 457.00L339.00 461.30L343.30 457.00Z" fill="#0000ff"/><path d="M342.40 457.70L338.10 462.00L342.40 466.30L346.70 462.00Z" fill="#0000ff"/><path d="M346.60 461.10L342.30 465.40L346.60 469.70L350.90 465.40Z" fill="#0000ff"/><path d="M351.00 469.70L346.70 474.00L351.00 478.30L355.30 474.00Z" fill="#0000ff"/><path d="M355.00 473.30L350.70 477.60L355.00 481.90L359.30 477.60Z" fill="#0000ff"/><path d="M359.60 478.70L355.30 483.00L359.60 487.30L363.90 483.00Z" fill="#0000ff"/><path d="M364.00 485.70L359.70 490.00L364.00 494.30L368.30 490.00Z" fill="#0000ff"/><path d="M368.00 489.30L363.70 493.60L368.00 497.90L372.30 493.60Z" fill="#0000ff"/><path d="M372.00 496.70L367.70 501.00L372.00 505.30L376.30 501.00Z" fill="#0000ff"/><path d="M376.00 500.70L371.70 505.00L376.00 509.30L380.30 505.00Z" fill="#0000ff"/><path d="M380.00 505.70L375.70 510.00L380.00 514.30L384.30 510.00Z" fill="#0000ff"/><path d="M384.00 510.70L379.70 515.00L384.00 519.30L388.30 515.00Z" fill="#0000ff"/><path d="M388.60 512.30L384.30 516.60L388.60 520.90L392.90 516.60Z" fill="#0000ff"/><path d="M392.60 517.30L388.30 521.60L392.60 525.90L396.90 521.60Z" fill="#0000ff"/><path d="M397.00 518.70L392.70 523.00L397.00 527.30L401.30 523.00Z" fill="#0000ff"/><path d="M401.00 523.10L396.70 527.40L401.00 531.70L405.30 527.40Z" fill="#0000ff"/><path d="M405.60 523.10L401.30 527.40L405.60 531.70L409.90 527.40Z" fill="#0000ff"/><path d="M409.60 526.70L405.30 531.00L409.60 535.30L413.90 531.00Z" fill="#0000ff"/><path d="M414.00 526.70L409.70 531.00L414.00 535.30L418.30 531.00Z" fill="#0000ff"/><path d="M418.00 529.70L413.70 534.00L418.00 538.30L422.30 534.00Z" fill="#0000ff"/><path d="M422.00 530.70L417.70 535.00L422.00 539.30L426.30 535.00Z" fill="#0000ff"/><path d="M426.40 533.70L422.10 538.00L426.40 542.30L430.70 538.00Z" fill="#0000ff"/><path d="M430.60 535.10L426.30 539.40L430.60 543.70L434.90 539.40Z" fill="#0000ff"/><path d="M435.00 538.70L430.70 543.00L435.00 547.30L439.30 543.00Z" fill="#0000ff"/><path d="M439.00 540.70L434.70 545.00L439.00 549.30L443.30 545.00Z" fill="#0000ff"/><path d="M443.40 544.70L439.10 549.00L443.40 553.30L447.70 549.00Z" fill="#0000ff"/><path d="M447.60 546.70L443.30 551.00L447.60 555.30L451.90 551.00Z" fill="#0000ff"/><path d="M451.60 550.70L447.30 555.00L451.60 559.30L455.90 555.00Z" fill="#0000ff"/><path d="M456.00 552.70L451.70 557.00L456.00 561.30L460.30 557.00Z" fill="#0000ff"/><path d="M460.00 557.10L455.70 561.40L460.00 565.70L464.30 561.40Z" fill="#0000ff"/><path d="M464.00 560.10L459.70 564.40L464.00 568.70L468.30 564.40Z" fill="#0000ff"/><path d="M468.40 563.70L464.10 568.00L468.40 572.30L472.70 568.00Z" fill="#0000ff"/><path d="M472.60 567.10L468.30 571.40L472.60 575.70L476.90 571.40Z" fill="#0000ff"/><path d="M477.00 569.30L472.70 573.60L477.00 577.90L481.30 573.60Z" fill="#0000ff"/><path d="M481.00 571.70L476.70 576.00L481.00 580.30L485.30 576.00Z" fill="#0000ff"/><path d="M485.40 573.30L481.10 577.60L485.40 581.90L489.70 577.60Z" fill="#0000ff"/><path d="M489.60 574.70L485.30 579.00L489.60 583.30L493.90 579.00Z" fill="#0000ff"/><path d="M493.79 576.01L489.49 580.31L493.79 584.61L498.09 580.31Z" fill="#0000ff"/><path d="M497.97 577.09L493.67 581.39L497.97 585.69L502.27 581.39Z" fill="#0000ff"/><path d="M502.16 577.93L497.86 582.23L502.16 586.53L506.46 582.23Z" fill="#0000ff"/><path d="M506.34 578.75L502.04 583.05L506.34 587.35L510.64 583.05Z" fill="#0000ff"/><path d="M510.53 579.42L506.23 583.72L510.53 588.02L514.83 583.72Z" fill="#0000ff"/><path d="M514.71 580.09L510.41 584.39L514.71 588.69L519.01 584.39Z" fill="#0000ff"/><path d="M518.90 581.00L514.60 585.30L518.90 589.60L523.20 585.30Z" fill="#0000ff"/><path d="M523.09 582.00L518.79 586.30L523.09 590.60L527.39 586.30Z" fill="#0000ff"/><path d="M527.27 583.21L522.97 587.51L527.27 591.81L531.57 587.51Z" fill="#0000ff"/><path d="M531.46 584.88L527.16 589.18L531.46 593.48L535.76 589.18Z" fill="#0000ff"/><path d="M535.64 586.56L531.34 590.86L535.64 595.16L539.94 590.86Z" fill="#0000ff"/><path d="M539.83 588.61L535.53 592.91L539.83 597.21L544.13 592.91Z" fill="#0000ff"/><path d="M544.01 590.71L539.71 595.01L544.01 599.31L548.31 595.01Z" fill="#0000ff"/><path d="M548.20 592.80L543.90 597.10L548.20 601.40L552.50 597.10Z" fill="#0000ff"/><path d="M552.39 594.89L548.09 599.19L552.39 603.49L556.69 599.19Z" fill="#0000ff"/><path d="M556.57 596.89L552.27 601.19L556.57 605.49L560.87 601.19Z" fill="#0000ff"/><path d="M560.76 598.32L556.46 602.62L560.76 606.92L565.06 602.62Z" fill="#0000ff"/><path d="M564.94 599.74L560.64 604.04L564.94 608.34L569.24 604.04Z" fill="#0000ff"/><path d="M569.13 600.96L564.83 605.26L569.13 609.56L573.43 605.26Z" fill="#0000ff"/><path d="M573.31 602.11L569.01 606.41L573.31 610.71L577.61 606.41Z" fill="#0000ff"/><path d="M577.50 602.44L573.20 606.74L577.50 611.04L581.80 606.74Z" fill="#0000ff"/><path d="M581.69 602.61L577.39 606.91L581.69 611.21L585.99 606.91Z" fill="#0000ff"/><path d="M585.87 602.70L581.57 607.00L585.87 611.30L590.17 607.00Z" fill="#0000ff"/><path d="M590.06 602.70L585.76 607.00L590.06 611.30L594.36 607.00Z" fill="#0000ff"/><path d="M594.24 602.70L589.94 607.00L594.24 611.30L598.54 607.00Z" fill="#0000ff"/><path d="M598.43 602.70L594.13 607.00L598.43 611.30L602.73 607.00Z" fill="#0000ff"/><path d="M602.61 602.70L598.31 607.00L602.61 611.30L606.91 607.00Z" fill="#0000ff"/><path d="M606.80 602.70L602.50 607.00L606.80 611.30L611.10 607.00Z" fill="#0000ff"/><path d="M610.99 602.70L606.69 607.00L610.99 611.30L615.29 607.00Z" fill="#0000ff"/><path d="M615.17 602.82L610.87 607.12L615.17 611.42L619.47 607.12Z" fill="#0000ff"/><path d="M619.36 603.24L615.06 607.54L619.36 611.84L623.66 607.54Z" fill="#0000ff"/><path d="M623.54 603.65L619.24 607.95L623.54 612.25L627.84 607.95Z" fill="#0000ff"/><path d="M627.73 604.45L623.43 608.75L627.73 613.05L632.03 608.75Z" fill="#0000ff"/><path d="M631.91 605.28L627.61 609.58L631.91 613.88L636.21 609.58Z" fill="#0000ff"/><path d="M636.10 606.44L631.80 610.74L636.10 615.03L640.40 610.74Z" fill="#0000ff"/><path d="M640.29 607.90L635.99 612.20L640.29 616.50L644.59 612.20Z" fill="#0000ff"/><path d="M644.47 609.37L640.17 613.67L644.47 617.97L648.77 613.67Z" fill="#0000ff"/><path d="M648.66 610.89L644.36 615.19L648.66 619.49L652.96 615.19Z" fill="#0000ff"/><path d="M652.84 612.37L648.54 616.67L652.84 620.97L657.14 616.67Z" fill="#0000ff"/><path d="M657.03 613.73L652.73 618.03L657.03 622.33L661.33 618.03Z" fill="#0000ff"/><path d="M661.21 615.00L656.91 619.30L661.21 623.60L665.51 619.30Z" fill="#0000ff"/><path d="M665.40 616.05L661.10 620.35L665.40 624.65L669.70 620.35Z" fill="#0000ff"/><path d="M669.59 616.70L665.29 621.00L669.59 625.30L673.89 621.00Z" fill="#0000ff"/><path d="M673.77 616.70L669.47 621.00L673.77 625.30L678.07 621.00Z" fill="#0000ff"/><path d="M677.96 616.36L673.66 620.66L677.96 624.96L682.26 620.66Z" fill="#0000ff"/><path d="M682.14 615.63L677.84 619.93L682.14 624.23L686.44 619.93Z" fill="#0000ff"/><path d="M686.33 614.43L682.03 618.73L686.33 623.03L690.63 618.73Z" fill="#0000ff"/><path d="M690.51 612.86L686.21 617.16L690.51 621.46L694.81 617.16Z" fill="#0000ff"/><path d="M694.70 612.01L690.40 616.31L694.70 620.61L699.00 616.31Z" fill="#0000ff"/></g>
<g><path d="M86.50 632.50L90.68 632.50L94.86 632.50L99.04 632.50L103.22 632.50L107.40 632.50L111.58 632.50L115.76 632.50L119.94 632.50L124.12 632.50L128.30 632.50L132.48 632.50L136.66 632.50L140.84 632.50L145.02 632.50L149.20 632.50L153.38 632.50L157.56 632.50L161.74 632.50L165.92 632.50L170.10 632.50L174.28 632.50L178.46 632.50L182.64 632.50L186.82 632.50L191.00 632.50L195.18 632.50L199.36 632.50L203.54 632.50L207.72 632.50L211.90 632.50L216.08 632.50L220.26 632.50L224.44 632.50L228.62 632.50L232.80 632.50L236.98 632.50L241.16 632.50L245.34 632.50L249.52 632.50L253.70 632.50L257.88 632.50L262.06 632.50L266.24 632.50L270.42 632.50L274.60 632.50L278.78 632.50L282.96 632.50L287.14 632.50L291.32 632.50L295.50 632.50L299.68 632.50L303.86 632.50L308.04 632.50L312.22 632.50L316.40 632.50L320.58 632.50L324.76 632.50L328.94 632.50L333.12 632.50L337.30 632.50L341.48 632.50L345.66 632.50L349.84 632.50L354.02 632.50L358.20 632.50L362.38 632.50L366.56 632.50L370.74 632.50L374.92 632.50L379.10 632.50L383.28 632.50L387.46 632.50L391.64 632.50L395.82 632.50L400.00 632.50L404.18 632.50L408.36 632.50L412.54 632.50" fill="none" stroke="#000000" stroke-width="1.6" stroke-dasharray="1.3,0.8,1.3,1.6"/><circle cx="86.50" cy="632.50" r="4.5" fill="#000000"/><circle cx="90.68" cy="632.50" r="4.5" fill="#000000"/><circle cx="94.86" cy="632.50" r="4.5" fill="#000000"/><circle cx="99.04" cy="632.50" r="4.5" fill="#000000"/><circle cx="103.22" cy="632.50" r="4.5" fill="#000000"/><circle cx="107.40" cy="632.50" r="4.5" fill="#000000"/><circle cx="111.58" cy="632.50" r="4.5" fill="#000000"/><circle cx="115.76" cy="632.50" r="4.5" fill="#000000"/><circle cx="119.94" cy="632.50" r="4.5" fill="#000000"/><circle cx="124.12" cy="632.50" r="4.5" fill="#000000"/><circle cx="128.30" cy="632.50" r="4.5" fill="#000000"/><circle cx="132.48" cy="632.50" r="4.5" fill="#000000"/><circle cx="136.66" cy="632.50" r="4.5" fill="#000000"/><circle cx="140.84" cy="632.50" r="4.5" fill="#000000"/><circle cx="145.02" cy="632.50" r="4.5" fill="#000000"/><circle cx="149.20" cy="632.50" r="4.5" fill="#000000"/><circle cx="153.38" cy="632.50" r="4.5" fill="#000000"/><circle cx="157.56" cy="632.50" r="4.5" fill="#000000"/><circle cx="161.74" cy="632.50" r="4.5" fill="#000000"/><circle cx="165.92" cy="632.50" r="4.5" fill="#000000"/><circle cx="170.10" cy="632.50" r="4.5" fill="#000000"/><circle cx="174.28" cy="632.50" r="4.5" fill="#000000"/><circle cx="178.46" cy="632.50" r="4.5" fill="#000000"/><circle cx="182.64" cy="632.50" r="4.5" fill="#000000"/><circle cx="186.82" cy="632.50" r="4.5" fill="#000000"/><circle cx="191.00" cy="632.50" r="4.5" fill="#000000"/><circle cx="195.18" cy="632.50" r="4.5" fill="#000000"/><circle cx="199.36" cy="632.50" r="4.5" fill="#000000"/><circle cx="203.54" cy="632.50" r="4.5" fill="#000000"/><circle cx="207.72" cy="632.50" r="4.5" fill="#000000"/><circle cx="211.90" cy="632.50" r="4.5" fill="#000000"/><circle cx="216.08" cy="632.50" r="4.5" fill="#000000"/><circle cx="220.26" cy="632.50" r="4.5" fill="#000000"/><circle cx="224.44" cy="632.50" r="4.5" fill="#000000"/><circle cx="228.62" cy="632.50" r="4.5" fill="#000000"/><circle cx="232.80" cy="632.50" r="4.5" fill="#000000"/><circle cx="236.98" cy="632.50" r="4.5" fill="#000000"/><circle cx="241.16" cy="632.50" r="4.5" fill="#000000"/><circle cx="245.34" cy="632.50" r="4.5" fill="#000000"/><circle cx="249.52" cy="632.50" r="4.5" fill="#000000"/><circle cx="253.70" cy="632.50" r="4.5" fill="#000000"/><circle cx="257.88" cy="632.50" r="4.5" fill="#000000"/><circle cx="262.06" cy="632.50" r="4.5" fill="#000000"/><circle cx="266.24" cy="632.50" r="4.5" fill="#000000"/><circle cx="270.42" cy="632.50" r="4.5" fill="#000000"/><circle cx="274.60" cy="632.50" r="4.5" fill="#000000"/><circle cx="278.78" cy="632.50" r="4.5" fill="#000000"/><circle cx="282.96" cy="632.50" r="4.5" fill="#000000"/><circle cx="287.14" cy="632.50" r="4.5" fill="#000000"/><circle cx="291.32" cy="632.50" r="4.5" fill="#000000"/><circle cx="295.50" cy="632.50" r="4.5" fill="#000000"/><circle cx="299.68" cy="632.50" r="4.5" fill="#000000"/><circle cx="303.86" cy="632.50" r="4.5" fill="#000000"/><circle cx="308.04" cy="632.50" r="4.5" fill="#000000"/><circle cx="312.22" cy="632.50" r="4.5" fill="#000000"/><circle cx="316.40" cy="632.50" r="4.5" fill="#000000"/><circle cx="320.58" cy="632.50" r="4.5" fill="#000000"/><circle cx="324.76" cy="632.50" r="4.5" fill="#000000"/><circle cx="328.94" cy="632.50" r="4.5" fill="#000000"/><circle cx="333.12" cy="632.50" r="4.5" fill="#000000"/><circle cx="337.30" cy="632.50" r="4.5" fill="#000000"/><circle cx="341.48" cy="632.50" r="4.5" fill="#000000"/><circle cx="345.66" cy="632.50" r="4.5" fill="#000000"/><circle cx="349.84" cy="632.50" r="4.5" fill="#000000"/><circle cx="354.02" cy="632.50" r="4.5" fill="#000000"/><circle cx="358.20" cy="632.50" r="4.5" fill="#000000"/><circle cx="362.38" cy="632.50" r="4.5" fill="#000000"/><circle cx="366.56" cy="632.50" r="4.5" fill="#000000"/><circle cx="370.74" cy="632.50" r="4.5" fill="#000000"/><circle cx="374.92" cy="632.50" r="4.5" fill="#000000"/><circle cx="379.10" cy="632.50" r="4.5" fill="#000000"/><circle cx="383.28" cy="632.50" r="4.5" fill="#000000"/><circle cx="387.46" cy="632.50" r="4.5" fill="#000000"/><circle cx="391.64" cy="632.50" r="4.5" fill="#000000"/><circle cx="395.82" cy="632.50" r="4.5" fill="#000000"/><circle cx="400.00" cy="632.50" r="4.5" fill="#000000"/><circle cx="404.18" cy="632.50" r="4.5" fill="#000000"/><circle cx="408.36" cy="632.50" r="4.5" fill="#000000"/><circle cx="412.54" cy="632.50" r="4.5" fill="#000000"/></g>
<g><path d="M86.50 599.60L90.70 599.95L94.90 600.31L99.10 601.43L103.30 602.83L107.50 603.44L111.70 603.09L115.90 602.68L120.10 601.98L124.30 601.28L128.50 601.51L132.70 601.86L136.90 602.62L141.10 603.67L145.30 604.58L149.50 605.16L153.70 605.10L157.90 604.10L162.10 603.10L166.30 602.10L170.50 602.04L174.70 602.62L178.90 603.56L183.10 604.66L187.30 605.56L191.50 606.40L195.70 605.90L199.90 605.22L204.10 604.53L208.30 603.91L212.50 604.07L216.70 604.38L220.90 605.43L225.10 606.30L229.30 606.69L233.50 607.07L237.70 607.30L241.90 607.30L246.10 607.30L250.30 607.30L254.50 607.72L258.70 608.43L262.90 609.14L267.10 609.85L271.30 610.27L275.50 610.61L279.70 610.95L283.90 611.29L288.10 611.30L292.30 611.30L296.50 611.30L300.70 611.35L304.90 611.64L309.10 611.93L313.30 612.21L317.50 612.50L321.70 612.79L325.90 613.08L330.10 613.37L334.30 613.73L338.50 614.15L342.70 614.87L346.90 615.77L351.10 616.66L355.30 617.55L359.50 618.23L363.70 618.86L367.90 619.63L372.10 620.41L376.30 620.70L380.50 620.98L384.70 621.27L388.90 621.53L393.10 621.66L397.30 621.79L401.50 621.92L405.70 622.09L409.90 622.29L414.10 622.50L418.30 622.71L422.50 623.17L426.70 623.80L430.90 624.44L435.10 625.07L439.30 625.70L443.50 626.33L447.70 626.96L451.90 627.59L456.10 627.88L460.30 628.17L464.50 628.46L468.70 628.65L472.90 628.35L477.10 628.05L481.30 627.75L485.50 627.50L489.70 627.25L493.90 627.01L498.10 626.86L502.30 626.72L506.50 626.62L510.70 626.76L514.90 626.90L519.10 627.09L523.30 627.44L527.50 627.79L531.70 628.23L535.90 628.79L540.10 629.35L544.30 629.98L548.50 630.68L552.70 631.38L556.90 631.94L561.10 632.43L565.30 632.92L569.50 632.71L573.70 632.36L577.90 632.01L582.10 631.32L586.30 630.62L590.50 629.94L594.70 629.45L598.90 628.96L603.10 628.55L607.30 628.34L611.50 628.12L615.70 628.00L619.90 628.00L624.10 628.00L628.30 628.12L632.50 628.33L636.70 628.53L640.90 629.03L645.10 629.66L649.30 630.29L653.50 630.87L657.70 631.43L661.90 631.99L666.10 632.51L670.30 632.97L674.50 632.55L678.70 632.13L682.90 631.71L687.10 631.29L691.30 630.87L695.50 630.45L699.70 630.03L703.90 629.91L708.10 629.82L712.30 629.73L716.50 629.63L720.70 629.54" fill="none" stroke="#00ffff" stroke-width="1.6" stroke-dasharray="4,1.5,1.5,1.5"/><circle cx="86.50" cy="599.60" r="3.95" fill="none" stroke="#00ffff" stroke-width="1.9"/><circle cx="86.50" cy="599.60" r="0.6" fill="#00ffff"/><circle cx="90.70" cy="599.95" r="3.95" fill="none" stroke="#00ffff" stroke-width="1.9"/><circle cx="90.70" cy="599.95" r="0.6" fill="#00ffff"/><circle cx="94.90" cy="600.31" r="3.95" fill="none" stroke="#00ffff" stroke-width="1.9"/><circle cx="94.90" cy="600.31" r="0.6" fill="#00ffff"/><circle cx="99.10" cy="601.43" r="3.95" fill="none" stroke="#00ffff" stroke-width="1.9"/><circle cx="99.10" cy="601.43" r="0.6" fill="#00ffff"/><circle cx="103.30" cy="602.83" r="3.95" fill="none" stroke="#00ffff" stroke-width="1.9"/><circle cx="103.30" cy="602.83" r="0.6" fill="#00ffff"/><circle cx="107.50" cy="603.44" r="3.95" fill="none" stroke="#00ffff" stroke-width="1.9"/><circle cx="107.50" cy="603.44" r="0.6" fill="#00ffff"/><circle cx="111.70" cy="603.09" r="3.95" fill="none" stroke="#00ffff" stroke-width="1.9"/><circle cx="111.70" cy="603.09" r="0.6" fill="#00ffff"/><circle cx="115.90" cy="602.68" r="3.95" fill="none" stroke="#00ffff" stroke-width="1.9"/><circle cx="115.90" cy="602.68" r="0.6" fill="#00ffff"/><circle cx="120.10" cy="601.98" r="3.95" fill="none" stroke="#00ffff" stroke-width="1.9"/><circle cx="120.10" cy="601.98" r="0.6" fill="#00ffff"/><circle cx="124.30" cy="601.28" r="3.95" fill="none" stroke="#00ffff" stroke-width="1.9"/><circle cx="124.30" cy="601.28" r="0.6" fill="#00ffff"/><circle cx="128.50" cy="601.51" r="3.95" fill="none" stroke="#00ffff" stroke-width="1.9"/><circle cx="128.50" cy="601.51" r="0.6" fill="#00ffff"/><circle cx="132.70" cy="601.86" r="3.95" fill="none" stroke="#00ffff" stroke-width="1.9"/><circle cx="132.70" cy="601.86" r="0.6" fill="#00ffff"/><circle cx="136.90" cy="602.62" r="3.95" fill="none" stroke="#00ffff" stroke-width="1.9"/><circle cx="136.90" cy="602.62" r="0.6" fill="#00ffff"/><circle cx="141.10" cy="603.67" r="3.95" fill="none" stroke="#00ffff" stroke-width="1.9"/><circle cx="141.10" cy="603.67" r="0.6" fill="#00ffff"/><circle cx="145.30" cy="604.58" r="3.95" fill="none" stroke="#00ffff" stroke-width="1.9"/><circle cx="145.30" cy="604.58" r="0.6" fill="#00ffff"/><circle cx="149.50" cy="605.16" r="3.95" fill="none" stroke="#00ffff" stroke-width="1.9"/><circle cx="149.50" cy="605.16" r="0.6" fill="#00ffff"/><circle cx="153.70" cy="605.10" r="3.95" fill="none" stroke="#00ffff" stroke-width="1.9"/><circle cx="153.70" cy="605.10" r="0.6" fill="#00ffff"/><circle cx="157.90" cy="604.10" r="3.95" fill="none" stroke="#00ffff" stroke-width="1.9"/><circle cx="157.90" cy="604.10" r="0.6" fill="#00ffff"/><circle cx="162.10" cy="603.10" r="3.95" fill="none" stroke="#00ffff" stroke-width="1.9"/><circle cx="162.10" cy="603.10" r="0.6" fill="#00ffff"/><circle cx="166.30" cy="602.10" r="3.95" fill="none" stroke="#00ffff" stroke-width="1.9"/><circle cx="166.30" cy="602.10" r="0.6" fill="#00ffff"/><circle cx="170.50" cy="602.04" r="3.95" fill="none" stroke="#00ffff" stroke-width="1.9"/><circle cx="170.50" cy="602.04" r="0.6" fill="#00ffff"/><circle cx="174.70" cy="602.62" r="3.95" fill="none" stroke="#00ffff" stroke-width="1.9"/><circle cx="174.70" cy="602.62" r="0.6" fill="#00ffff"/><circle cx="178.90" cy="603.56" r="3.95" fill="none" stroke="#00ffff" stroke-width="1.9"/><circle cx="178.90" cy="603.56" r="0.6" fill="#00ffff"/><circle cx="183.10" cy="604.66" r="3.95" fill="none" stroke="#00ffff" stroke-width="1.9"/><circle cx="183.10" cy="604.66" r="0.6" fill="#00ffff"/><circle cx="187.30" cy="605.56" r="3.95" fill="none" stroke="#00ffff" stroke-width="1.9"/><circle cx="187.30" cy="605.56" r="0.6" fill="#00ffff"/><circle cx="191.50" cy="606.40" r="3.95" fill="none" stroke="#00ffff" stroke-width="1.9"/><circle cx="191.50" cy="606.40" r="0.6" fill="#00ffff"/><circle cx="195.70" cy="605.90" r="3.95" fill="none" stroke="#00ffff" stroke-width="1.9"/><circle cx="195.70" cy="605.90" r="0.6" fill="#00ffff"/><circle cx="199.90" cy="605.22" r="3.95" fill="none" stroke="#00ffff" stroke-width="1.9"/><circle cx="199.90" cy="605.22" r="0.6" fill="#00ffff"/><circle cx="204.10" cy="604.53" r="3.95" fill="none" stroke="#00ffff" stroke-width="1.9"/><circle cx="204.10" cy="604.53" r="0.6" fill="#00ffff"/><circle cx="208.30" cy="603.91" r="3.95" fill="none" stroke="#00ffff" stroke-width="1.9"/><circle cx="208.30" cy="603.91" r="0.6" fill="#00ffff"/><circle cx="212.50" cy="604.07" r="3.95" fill="none" stroke="#00ffff" stroke-width="1.9"/><circle cx="212.50" cy="604.07" r="0.6" fill="#00ffff"/><circle cx="216.70" cy="604.38" r="3.95" fill="none" stroke="#00ffff" stroke-width="1.9"/><circle cx="216.70" cy="604.38" r="0.6" fill="#00ffff"/><circle cx="220.90" cy="605.43" r="3.95" fill="none" stroke="#00ffff" stroke-width="1.9"/><circle cx="220.90" cy="605.43" r="0.6" fill="#00ffff"/><circle cx="225.10" cy="606.30" r="3.95" fill="none" stroke="#00ffff" stroke-width="1.9"/><circle cx="225.10" cy="606.30" r="0.6" fill="#00ffff"/><circle cx="229.30" cy="606.69" r="3.95" fill="none" stroke="#00ffff" stroke-width="1.9"/><circle cx="229.30" cy="606.69" r="0.6" fill="#00ffff"/><circle cx="233.50" cy="607.07" r="3.95" fill="none" stroke="#00ffff" stroke-width="1.9"/><circle cx="233.50" cy="607.07" r="0.6" fill="#00ffff"/><circle cx="237.70" cy="607.30" r="3.95" fill="none" stroke="#00ffff" stroke-width="1.9"/><circle cx="237.70" cy="607.30" r="0.6" fill="#00ffff"/><circle cx="241.90" cy="607.30" r="3.95" fill="none" stroke="#00ffff" stroke-width="1.9"/><circle cx="241.90" cy="607.30" r="0.6" fill="#00ffff"/><circle cx="246.10" cy="607.30" r="3.95" fill="none" stroke="#00ffff" stroke-width="1.9"/><circle cx="246.10" cy="607.30" r="0.6" fill="#00ffff"/><circle cx="250.30" cy="607.30" r="3.95" fill="none" stroke="#00ffff" stroke-width="1.9"/><circle cx="250.30" cy="607.30" r="0.6" fill="#00ffff"/><circle cx="254.50" cy="607.72" r="3.95" fill="none" stroke="#00ffff" stroke-width="1.9"/><circle cx="254.50" cy="607.72" r="0.6" fill="#00ffff"/><circle cx="258.70" cy="608.43" r="3.95" fill="none" stroke="#00ffff" stroke-width="1.9"/><circle cx="258.70" cy="608.43" r="0.6" fill="#00ffff"/><circle cx="262.90" cy="609.14" r="3.95" fill="none" stroke="#00ffff" stroke-width="1.9"/><circle cx="262.90" cy="609.14" r="0.6" fill="#00ffff"/><circle cx="267.10" cy="609.85" r="3.95" fill="none" stroke="#00ffff" stroke-width="1.9"/><circle cx="267.10" cy="609.85" r="0.6" fill="#00ffff"/><circle cx="271.30" cy="610.27" r="3.95" fill="none" stroke="#00ffff" stroke-width="1.9"/><circle cx="271.30" cy="610.27" r="0.6" fill="#00ffff"/><circle cx="275.50" cy="610.61" r="3.95" fill="none" stroke="#00ffff" stroke-width="1.9"/><circle cx="275.50" cy="610.61" r="0.6" fill="#00ffff"/><circle cx="279.70" cy="610.95" r="3.95" fill="none" stroke="#00ffff" stroke-width="1.9"/><circle cx="279.70" cy="610.95" r="0.6" fill="#00ffff"/><circle cx="283.90" cy="611.29" r="3.95" fill="none" stroke="#00ffff" stroke-width="1.9"/><circle cx="283.90" cy="611.29" r="0.6" fill="#00ffff"/><circle cx="288.10" cy="611.30" r="3.95" fill="none" stroke="#00ffff" stroke-width="1.9"/><circle cx="288.10" cy="611.30" r="0.6" fill="#00ffff"/><circle cx="292.30" cy="611.30" r="3.95" fill="none" stroke="#00ffff" stroke-width="1.9"/><circle cx="292.30" cy="611.30" r="0.6" fill="#00ffff"/><circle cx="296.50" cy="611.30" r="3.95" fill="none" stroke="#00ffff" stroke-width="1.9"/><circle cx="296.50" cy="611.30" r="0.6" fill="#00ffff"/><circle cx="300.70" cy="611.35" r="3.95" fill="none" stroke="#00ffff" stroke-width="1.9"/><circle cx="300.70" cy="611.35" r="0.6" fill="#00ffff"/><circle cx="304.90" cy="611.64" r="3.95" fill="none" stroke="#00ffff" stroke-width="1.9"/><circle cx="304.90" cy="611.64" r="0.6" fill="#00ffff"/><circle cx="309.10" cy="611.93" r="3.95" fill="none" stroke="#00ffff" stroke-width="1.9"/><circle cx="309.10" cy="611.93" r="0.6" fill="#00ffff"/><circle cx="313.30" cy="612.21" r="3.95" fill="none" stroke="#00ffff" stroke-width="1.9"/><circle cx="313.30" cy="612.21" r="0.6" fill="#00ffff"/><circle cx="317.50" cy="612.50" r="3.95" fill="none" stroke="#00ffff" stroke-width="1.9"/><circle cx="317.50" cy="612.50" r="0.6" fill="#00ffff"/><circle cx="321.70" cy="612.79" r="3.95" fill="none" stroke="#00ffff" stroke-width="1.9"/><circle cx="321.70" cy="612.79" r="0.6" fill="#00ffff"/><circle cx="325.90" cy="613.08" r="3.95" fill="none" stroke="#00ffff" stroke-width="1.9"/><circle cx="325.90" cy="613.08" r="0.6" fill="#00ffff"/><circle cx="330.10" cy="613.37" r="3.95" fill="none" stroke="#00ffff" stroke-width="1.9"/><circle cx="330.10" cy="613.37" r="0.6" fill="#00ffff"/><circle cx="334.30" cy="613.73" r="3.95" fill="none" stroke="#00ffff" stroke-width="1.9"/><circle cx="334.30" cy="613.73" r="0.6" fill="#00ffff"/><circle cx="338.50" cy="614.15" r="3.95" fill="none" stroke="#00ffff" stroke-width="1.9"/><circle cx="338.50" cy="614.15" r="0.6" fill="#00ffff"/><circle cx="342.70" cy="614.87" r="3.95" fill="none" stroke="#00ffff" stroke-width="1.9"/><circle cx="342.70" cy="614.87" r="0.6" fill="#00ffff"/><circle cx="346.90" cy="615.77" r="3.95" fill="none" stroke="#00ffff" stroke-width="1.9"/><circle cx="346.90" cy="615.77" r="0.6" fill="#00ffff"/><circle cx="351.10" cy="616.66" r="3.95" fill="none" stroke="#00ffff" stroke-width="1.9"/><circle cx="351.10" cy="616.66" r="0.6" fill="#00ffff"/><circle cx="355.30" cy="617.55" r="3.95" fill="none" stroke="#00ffff" stroke-width="1.9"/><circle cx="355.30" cy="617.55" r="0.6" fill="#00ffff"/><circle cx="359.50" cy="618.23" r="3.95" fill="none" stroke="#00ffff" stroke-width="1.9"/><circle cx="359.50" cy="618.23" r="0.6" fill="#00ffff"/><circle cx="363.70" cy="618.86" r="3.95" fill="none" stroke="#00ffff" stroke-width="1.9"/><circle cx="363.70" cy="618.86" r="0.6" fill="#00ffff"/><circle cx="367.90" cy="619.63" r="3.95" fill="none" stroke="#00ffff" stroke-width="1.9"/><circle cx="367.90" cy="619.63" r="0.6" fill="#00ffff"/><circle cx="372.10" cy="620.41" r="3.95" fill="none" stroke="#00ffff" stroke-width="1.9"/><circle cx="372.10" cy="620.41" r="0.6" fill="#00ffff"/><circle cx="376.30" cy="620.70" r="3.95" fill="none" stroke="#00ffff" stroke-width="1.9"/><circle cx="376.30" cy="620.70" r="0.6" fill="#00ffff"/><circle cx="380.50" cy="620.98" r="3.95" fill="none" stroke="#00ffff" stroke-width="1.9"/><circle cx="380.50" cy="620.98" r="0.6" fill="#00ffff"/><circle cx="384.70" cy="621.27" r="3.95" fill="none" stroke="#00ffff" stroke-width="1.9"/><circle cx="384.70" cy="621.27" r="0.6" fill="#00ffff"/><circle cx="388.90" cy="621.53" r="3.95" fill="none" stroke="#00ffff" stroke-width="1.9"/><circle cx="388.90" cy="621.53" r="0.6" fill="#00ffff"/><circle cx="393.10" cy="621.66" r="3.95" fill="none" stroke="#00ffff" stroke-width="1.9"/><circle cx="393.10" cy="621.66" r="0.6" fill="#00ffff"/><circle cx="397.30" cy="621.79" r="3.95" fill="none" stroke="#00ffff" stroke-width="1.9"/><circle cx="397.30" cy="621.79" r="0.6" fill="#00ffff"/><circle cx="401.50" cy="621.92" r="3.95" fill="none" stroke="#00ffff" stroke-width="1.9"/><circle cx="401.50" cy="621.92" r="0.6" fill="#00ffff"/><circle cx="405.70" cy="622.09" r="3.95" fill="none" stroke="#00ffff" stroke-width="1.9"/><circle cx="405.70" cy="622.09" r="0.6" fill="#00ffff"/><circle cx="409.90" cy="622.29" r="3.95" fill="none" stroke="#00ffff" stroke-width="1.9"/><circle cx="409.90" cy="622.29" r="0.6" fill="#00ffff"/><circle cx="414.10" cy="622.50" r="3.95" fill="none" stroke="#00ffff" stroke-width="1.9"/><circle cx="414.10" cy="622.50" r="0.6" fill="#00ffff"/><circle cx="418.30" cy="622.71" r="3.95" fill="none" stroke="#00ffff" stroke-width="1.9"/><circle cx="418.30" cy="622.71" r="0.6" fill="#00ffff"/><circle cx="422.50" cy="623.17" r="3.95" fill="none" stroke="#00ffff" stroke-width="1.9"/><circle cx="422.50" cy="623.17" r="0.6" fill="#00ffff"/><circle cx="426.70" cy="623.80" r="3.95" fill="none" stroke="#00ffff" stroke-width="1.9"/><circle cx="426.70" cy="623.80" r="0.6" fill="#00ffff"/><circle cx="430.90" cy="624.44" r="3.95" fill="none" stroke="#00ffff" stroke-width="1.9"/><circle cx="430.90" cy="624.44" r="0.6" fill="#00ffff"/><circle cx="435.10" cy="625.07" r="3.95" fill="none" stroke="#00ffff" stroke-width="1.9"/><circle cx="435.10" cy="625.07" r="0.6" fill="#00ffff"/><circle cx="439.30" cy="625.70" r="3.95" fill="none" stroke="#00ffff" stroke-width="1.9"/><circle cx="439.30" cy="625.70" r="0.6" fill="#00ffff"/><circle cx="443.50" cy="626.33" r="3.95" fill="none" stroke="#00ffff" stroke-width="1.9"/><circle cx="443.50" cy="626.33" r="0.6" fill="#00ffff"/><circle cx="447.70" cy="626.96" r="3.95" fill="none" stroke="#00ffff" stroke-width="1.9"/><circle cx="447.70" cy="626.96" r="0.6" fill="#00ffff"/><circle cx="451.90" cy="627.59" r="3.95" fill="none" stroke="#00ffff" stroke-width="1.9"/><circle cx="451.90" cy="627.59" r="0.6" fill="#00ffff"/><circle cx="456.10" cy="627.88" r="3.95" fill="none" stroke="#00ffff" stroke-width="1.9"/><circle cx="456.10" cy="627.88" r="0.6" fill="#00ffff"/><circle cx="460.30" cy="628.17" r="3.95" fill="none" stroke="#00ffff" stroke-width="1.9"/><circle cx="460.30" cy="628.17" r="0.6" fill="#00ffff"/><circle cx="464.50" cy="628.46" r="3.95" fill="none" stroke="#00ffff" stroke-width="1.9"/><circle cx="464.50" cy="628.46" r="0.6" fill="#00ffff"/><circle cx="468.70" cy="628.65" r="3.95" fill="none" stroke="#00ffff" stroke-width="1.9"/><circle cx="468.70" cy="628.65" r="0.6" fill="#00ffff"/><circle cx="472.90" cy="628.35" r="3.95" fill="none" stroke="#00ffff" stroke-width="1.9"/><circle cx="472.90" cy="628.35" r="0.6" fill="#00ffff"/><circle cx="477.10" cy="628.05" r="3.95" fill="none" stroke="#00ffff" stroke-width="1.9"/><circle cx="477.10" cy="628.05" r="0.6" fill="#00ffff"/><circle cx="481.30" cy="627.75" r="3.95" fill="none" stroke="#00ffff" stroke-width="1.9"/><circle cx="481.30" cy="627.75" r="0.6" fill="#00ffff"/><circle cx="485.50" cy="627.50" r="3.95" fill="none" stroke="#00ffff" stroke-width="1.9"/><circle cx="485.50" cy="627.50" r="0.6" fill="#00ffff"/><circle cx="489.70" cy="627.25" r="3.95" fill="none" stroke="#00ffff" stroke-width="1.9"/><circle cx="489.70" cy="627.25" r="0.6" fill="#00ffff"/><circle cx="493.90" cy="627.01" r="3.95" fill="none" stroke="#00ffff" stroke-width="1.9"/><circle cx="493.90" cy="627.01" r="0.6" fill="#00ffff"/><circle cx="498.10" cy="626.86" r="3.95" fill="none" stroke="#00ffff" stroke-width="1.9"/><circle cx="498.10" cy="626.86" r="0.6" fill="#00ffff"/><circle cx="502.30" cy="626.72" r="3.95" fill="none" stroke="#00ffff" stroke-width="1.9"/><circle cx="502.30" cy="626.72" r="0.6" fill="#00ffff"/><circle cx="506.50" cy="626.62" r="3.95" fill="none" stroke="#00ffff" stroke-width="1.9"/><circle cx="506.50" cy="626.62" r="0.6" fill="#00ffff"/><circle cx="510.70" cy="626.76" r="3.95" fill="none" stroke="#00ffff" stroke-width="1.9"/><circle cx="510.70" cy="626.76" r="0.6" fill="#00ffff"/><circle cx="514.90" cy="626.90" r="3.95" fill="none" stroke="#00ffff" stroke-width="1.9"/><circle cx="514.90" cy="626.90" r="0.6" fill="#00ffff"/><circle cx="519.10" cy="627.09" r="3.95" fill="none" stroke="#00ffff" stroke-width="1.9"/><circle cx="519.10" cy="627.09" r="0.6" fill="#00ffff"/><circle cx="523.30" cy="627.44" r="3.95" fill="none" stroke="#00ffff" stroke-width="1.9"/><circle cx="523.30" cy="627.44" r="0.6" fill="#00ffff"/><circle cx="527.50" cy="627.79" r="3.95" fill="none" stroke="#00ffff" stroke-width="1.9"/><circle cx="527.50" cy="627.79" r="0.6" fill="#00ffff"/><circle cx="531.70" cy="628.23" r="3.95" fill="none" stroke="#00ffff" stroke-width="1.9"/><circle cx="531.70" cy="628.23" r="0.6" fill="#00ffff"/><circle cx="535.90" cy="628.79" r="3.95" fill="none" stroke="#00ffff" stroke-width="1.9"/><circle cx="535.90" cy="628.79" r="0.6" fill="#00ffff"/><circle cx="540.10" cy="629.35" r="3.95" fill="none" stroke="#00ffff" stroke-width="1.9"/><circle cx="540.10" cy="629.35" r="0.6" fill="#00ffff"/><circle cx="544.30" cy="629.98" r="3.95" fill="none" stroke="#00ffff" stroke-width="1.9"/><circle cx="544.30" cy="629.98" r="0.6" fill="#00ffff"/><circle cx="548.50" cy="630.68" r="3.95" fill="none" stroke="#00ffff" stroke-width="1.9"/><circle cx="548.50" cy="630.68" r="0.6" fill="#00ffff"/><circle cx="552.70" cy="631.38" r="3.95" fill="none" stroke="#00ffff" stroke-width="1.9"/><circle cx="552.70" cy="631.38" r="0.6" fill="#00ffff"/><circle cx="556.90" cy="631.94" r="3.95" fill="none" stroke="#00ffff" stroke-width="1.9"/><circle cx="556.90" cy="631.94" r="0.6" fill="#00ffff"/><circle cx="561.10" cy="632.43" r="3.95" fill="none" stroke="#00ffff" stroke-width="1.9"/><circle cx="561.10" cy="632.43" r="0.6" fill="#00ffff"/><circle cx="565.30" cy="632.92" r="3.95" fill="none" stroke="#00ffff" stroke-width="1.9"/><circle cx="565.30" cy="632.92" r="0.6" fill="#00ffff"/><circle cx="569.50" cy="632.71" r="3.95" fill="none" stroke="#00ffff" stroke-width="1.9"/><circle cx="569.50" cy="632.71" r="0.6" fill="#00ffff"/><circle cx="573.70" cy="632.36" r="3.95" fill="none" stroke="#00ffff" stroke-width="1.9"/><circle cx="573.70" cy="632.36" r="0.6" fill="#00ffff"/><circle cx="577.90" cy="632.01" r="3.95" fill="none" stroke="#00ffff" stroke-width="1.9"/><circle cx="577.90" cy="632.01" r="0.6" fill="#00ffff"/><circle cx="582.10" cy="631.32" r="3.95" fill="none" stroke="#00ffff" stroke-width="1.9"/><circle cx="582.10" cy="631.32" r="0.6" fill="#00ffff"/><circle cx="586.30" cy="630.62" r="3.95" fill="none" stroke="#00ffff" stroke-width="1.9"/><circle cx="586.30" cy="630.62" r="0.6" fill="#00ffff"/><circle cx="590.50" cy="629.94" r="3.95" fill="none" stroke="#00ffff" stroke-width="1.9"/><circle cx="590.50" cy="629.94" r="0.6" fill="#00ffff"/><circle cx="594.70" cy="629.45" r="3.95" fill="none" stroke="#00ffff" stroke-width="1.9"/><circle cx="594.70" cy="629.45" r="0.6" fill="#00ffff"/><circle cx="598.90" cy="628.96" r="3.95" fill="none" stroke="#00ffff" stroke-width="1.9"/><circle cx="598.90" cy="628.96" r="0.6" fill="#00ffff"/><circle cx="603.10" cy="628.55" r="3.95" fill="none" stroke="#00ffff" stroke-width="1.9"/><circle cx="603.10" cy="628.55" r="0.6" fill="#00ffff"/><circle cx="607.30" cy="628.34" r="3.95" fill="none" stroke="#00ffff" stroke-width="1.9"/><circle cx="607.30" cy="628.34" r="0.6" fill="#00ffff"/><circle cx="611.50" cy="628.12" r="3.95" fill="none" stroke="#00ffff" stroke-width="1.9"/><circle cx="611.50" cy="628.12" r="0.6" fill="#00ffff"/><circle cx="615.70" cy="628.00" r="3.95" fill="none" stroke="#00ffff" stroke-width="1.9"/><circle cx="615.70" cy="628.00" r="0.6" fill="#00ffff"/><circle cx="619.90" cy="628.00" r="3.95" fill="none" stroke="#00ffff" stroke-width="1.9"/><circle cx="619.90" cy="628.00" r="0.6" fill="#00ffff"/><circle cx="624.10" cy="628.00" r="3.95" fill="none" stroke="#00ffff" stroke-width="1.9"/><circle cx="624.10" cy="628.00" r="0.6" fill="#00ffff"/><circle cx="628.30" cy="628.12" r="3.95" fill="none" stroke="#00ffff" stroke-width="1.9"/><circle cx="628.30" cy="628.12" r="0.6" fill="#00ffff"/><circle cx="632.50" cy="628.33" r="3.95" fill="none" stroke="#00ffff" stroke-width="1.9"/><circle cx="632.50" cy="628.33" r="0.6" fill="#00ffff"/><circle cx="636.70" cy="628.53" r="3.95" fill="none" stroke="#00ffff" stroke-width="1.9"/><circle cx="636.70" cy="628.53" r="0.6" fill="#00ffff"/><circle cx="640.90" cy="629.03" r="3.95" fill="none" stroke="#00ffff" stroke-width="1.9"/><circle cx="640.90" cy="629.03" r="0.6" fill="#00ffff"/><circle cx="645.10" cy="629.66" r="3.95" fill="none" stroke="#00ffff" stroke-width="1.9"/><circle cx="645.10" cy="629.66" r="0.6" fill="#00ffff"/><circle cx="649.30" cy="630.29" r="3.95" fill="none" stroke="#00ffff" stroke-width="1.9"/><circle cx="649.30" cy="630.29" r="0.6" fill="#00ffff"/><circle cx="653.50" cy="630.87" r="3.95" fill="none" stroke="#00ffff" stroke-width="1.9"/><circle cx="653.50" cy="630.87" r="0.6" fill="#00ffff"/><circle cx="657.70" cy="631.43" r="3.95" fill="none" stroke="#00ffff" stroke-width="1.9"/><circle cx="657.70" cy="631.43" r="0.6" fill="#00ffff"/><circle cx="661.90" cy="631.99" r="3.95" fill="none" stroke="#00ffff" stroke-width="1.9"/><circle cx="661.90" cy="631.99" r="0.6" fill="#00ffff"/><circle cx="666.10" cy="632.51" r="3.95" fill="none" stroke="#00ffff" stroke-width="1.9"/><circle cx="666.10" cy="632.51" r="0.6" fill="#00ffff"/><circle cx="670.30" cy="632.97" r="3.95" fill="none" stroke="#00ffff" stroke-width="1.9"/><circle cx="670.30" cy="632.97" r="0.6" fill="#00ffff"/><circle cx="674.50" cy="632.55" r="3.95" fill="none" stroke="#00ffff" stroke-width="1.9"/><circle cx="674.50" cy="632.55" r="0.6" fill="#00ffff"/><circle cx="678.70" cy="632.13" r="3.95" fill="none" stroke="#00ffff" stroke-width="1.9"/><circle cx="678.70" cy="632.13" r="0.6" fill="#00ffff"/><circle cx="682.90" cy="631.71" r="3.95" fill="none" stroke="#00ffff" stroke-width="1.9"/><circle cx="682.90" cy="631.71" r="0.6" fill="#00ffff"/><circle cx="687.10" cy="631.29" r="3.95" fill="none" stroke="#00ffff" stroke-width="1.9"/><circle cx="687.10" cy="631.29" r="0.6" fill="#00ffff"/><circle cx="691.30" cy="630.87" r="3.95" fill="none" stroke="#00ffff" stroke-width="1.9"/><circle cx="691.30" cy="630.87" r="0.6" fill="#00ffff"/><circle cx="695.50" cy="630.45" r="3.95" fill="none" stroke="#00ffff" stroke-width="1.9"/><circle cx="695.50" cy="630.45" r="0.6" fill="#00ffff"/><circle cx="699.70" cy="630.03" r="3.95" fill="none" stroke="#00ffff" stroke-width="1.9"/><circle cx="699.70" cy="630.03" r="0.6" fill="#00ffff"/><circle cx="703.90" cy="629.91" r="3.95" fill="none" stroke="#00ffff" stroke-width="1.9"/><circle cx="703.90" cy="629.91" r="0.6" fill="#00ffff"/><circle cx="708.10" cy="629.82" r="3.95" fill="none" stroke="#00ffff" stroke-width="1.9"/><circle cx="708.10" cy="629.82" r="0.6" fill="#00ffff"/><circle cx="712.30" cy="629.73" r="3.95" fill="none" stroke="#00ffff" stroke-width="1.9"/><circle cx="712.30" cy="629.73" r="0.6" fill="#00ffff"/><circle cx="716.50" cy="629.63" r="3.95" fill="none" stroke="#00ffff" stroke-width="1.9"/><circle cx="716.50" cy="629.63" r="0.6" fill="#00ffff"/><circle cx="720.70" cy="629.54" r="3.95" fill="none" stroke="#00ffff" stroke-width="1.9"/><circle cx="720.70" cy="629.54" r="0.6" fill="#00ffff"/></g>
<g><path d="M86.50 363.60L91.00 365.00L95.00 367.00L99.40 379.60L103.60 386.00L108.00 393.00L112.00 399.60L116.40 394.40L121.00 390.00L125.00 392.00L129.60 384.00L133.60 382.00L138.00 383.00L142.00 380.00L146.40 389.00L150.60 390.60L154.60 398.00L159.00 405.00L163.00 405.00L167.00 408.00L171.40 401.00L175.40 396.00L179.60 391.00L184.00 384.00L188.00 389.00L192.00 388.00L196.00 395.60L200.40 402.40L204.40 404.00L208.60 414.00L213.00 414.00L217.00 414.00L221.00 418.00L225.40 413.60L229.60 413.00L233.60 410.00L238.00 406.00L242.00 410.00L246.40 412.00L250.60 419.00L254.60 424.00L259.00 424.00L263.00 427.00L267.40 427.00L271.60 426.00L276.00 424.40L280.00 421.00L284.00 417.00L288.00 420.00L292.40 421.60L296.00 427.00L300.00 434.00L304.40 434.00L308.40 440.00L312.40 447.00L317.00 447.00L321.00 447.00L325.00 447.00L329.40 445.40L333.60 449.00L338.00 450.00L342.40 450.00L347.00 456.00L351.00 459.00L355.40 460.50L360.40 465.00L364.40 468.00L369.00 467.00L373.00 467.60L377.40 469.00L381.40 470.00L385.40 471.00L389.40 475.00L393.40 480.00L397.40 483.60L401.40 489.00L405.60 495.00L409.60 498.00L414.00 500.00L418.00 506.40L422.00 508.00L426.00 509.00L430.00 516.00L434.60 517.00L439.00 522.00L443.00 524.00L447.40 528.00L451.40 534.00L455.60 535.00L460.00 539.60L464.00 541.00L468.40 545.00L472.60 548.00L477.00 551.00L481.00 553.40L485.40 558.00L489.60 561.00L494.00 564.00L498.00 567.00L502.40 570.00L506.60 573.00L511.00 575.00L515.00 577.00L519.40 578.00L523.60 579.60L527.79 581.45L531.99 582.50L536.18 583.38L540.38 584.12L544.57 585.04L548.77 586.09L552.96 587.36L557.15 588.73L561.35 590.42L565.54 592.21L569.74 594.27L573.93 596.37L578.12 598.26L582.32 600.14L586.51 602.03L590.71 603.78L594.90 604.83L599.10 605.74L603.29 606.26L607.48 606.67L611.68 606.88L615.87 606.91L620.07 606.70L624.26 606.43L628.46 606.12L632.65 606.13L636.84 606.34L641.04 606.86L645.23 607.48L649.43 608.54L653.62 609.70L657.82 611.14L662.01 612.60L666.20 614.70L670.40 616.41L674.59 617.82L678.79 619.03L682.98 620.13L687.18 620.60L691.37 620.86L695.56 621.12L699.76 620.92L703.95 620.53L708.15 620.14L712.34 619.68L716.53 619.19L720.73 618.70L724.92 618.50L729.12 618.50L733.31 618.50L737.51 618.71L741.70 619.09" fill="none" stroke="#ff00ff" stroke-width="1.6" stroke-dasharray="1.2,1.2"/><rect x="82.20" y="359.30" width="8.60" height="8.60" fill="none" stroke="#ff00ff" stroke-width="1.6"/><circle cx="86.50" cy="363.60" r="0.6" fill="#ff00ff"/><rect x="86.70" y="360.70" width="8.60" height="8.60" fill="none" stroke="#ff00ff" stroke-width="1.6"/><circle cx="91.00" cy="365.00" r="0.6" fill="#ff00ff"/><rect x="90.70" y="362.70" width="8.60" height="8.60" fill="none" stroke="#ff00ff" stroke-width="1.6"/><circle cx="95.00" cy="367.00" r="0.6" fill="#ff00ff"/><rect x="95.10" y="375.30" width="8.60" height="8.60" fill="none" stroke="#ff00ff" stroke-width="1.6"/><circle cx="99.40" cy="379.60" r="0.6" fill="#ff00ff"/><rect x="99.30" y="381.70" width="8.60" height="8.60" fill="none" stroke="#ff00ff" stroke-width="1.6"/><circle cx="103.60" cy="386.00" r="0.6" fill="#ff00ff"/><rect x="103.70" y="388.70" width="8.60" height="8.60" fill="none" stroke="#ff00ff" stroke-width="1.6"/><circle cx="108.00" cy="393.00" r="0.6" fill="#ff00ff"/><rect x="107.70" y="395.30" width="8.60" height="8.60" fill="none" stroke="#ff00ff" stroke-width="1.6"/><circle cx="112.00" cy="399.60" r="0.6" fill="#ff00ff"/><rect x="112.10" y="390.10" width="8.60" height="8.60" fill="none" stroke="#ff00ff" stroke-width="1.6"/><circle cx="116.40" cy="394.40" r="0.6" fill="#ff00ff"/><rect x="116.70" y="385.70" width="8.60" height="8.60" fill="none" stroke="#ff00ff" stroke-width="1.6"/><circle cx="121.00" cy="390.00" r="0.6" fill="#ff00ff"/><rect x="120.70" y="387.70" width="8.60" height="8.60" fill="none" stroke="#ff00ff" stroke-width="1.6"/><circle cx="125.00" cy="392.00" r="0.6" fill="#ff00ff"/><rect x="125.30" y="379.70" width="8.60" height="8.60" fill="none" stroke="#ff00ff" stroke-width="1.6"/><circle cx="129.60" cy="384.00" r="0.6" fill="#ff00ff"/><rect x="129.30" y="377.70" width="8.60" height="8.60" fill="none" stroke="#ff00ff" stroke-width="1.6"/><circle cx="133.60" cy="382.00" r="0.6" fill="#ff00ff"/><rect x="133.70" y="378.70" width="8.60" height="8.60" fill="none" stroke="#ff00ff" stroke-width="1.6"/><circle cx="138.00" cy="383.00" r="0.6" fill="#ff00ff"/><rect x="137.70" y="375.70" width="8.60" height="8.60" fill="none" stroke="#ff00ff" stroke-width="1.6"/><circle cx="142.00" cy="380.00" r="0.6" fill="#ff00ff"/><rect x="142.10" y="384.70" width="8.60" height="8.60" fill="none" stroke="#ff00ff" stroke-width="1.6"/><circle cx="146.40" cy="389.00" r="0.6" fill="#ff00ff"/><rect x="146.30" y="386.30" width="8.60" height="8.60" fill="none" stroke="#ff00ff" stroke-width="1.6"/><circle cx="150.60" cy="390.60" r="0.6" fill="#ff00ff"/><rect x="150.30" y="393.70" width="8.60" height="8.60" fill="none" stroke="#ff00ff" stroke-width="1.6"/><circle cx="154.60" cy="398.00" r="0.6" fill="#ff00ff"/><rect x="154.70" y="400.70" width="8.60" height="8.60" fill="none" stroke="#ff00ff" stroke-width="1.6"/><circle cx="159.00" cy="405.00" r="0.6" fill="#ff00ff"/><rect x="158.70" y="400.70" width="8.60" height="8.60" fill="none" stroke="#ff00ff" stroke-width="1.6"/><circle cx="163.00" cy="405.00" r="0.6" fill="#ff00ff"/><rect x="162.70" y="403.70" width="8.60" height="8.60" fill="none" stroke="#ff00ff" stroke-width="1.6"/><circle cx="167.00" cy="408.00" r="0.6" fill="#ff00ff"/><rect x="167.10" y="396.70" width="8.60" height="8.60" fill="none" stroke="#ff00ff" stroke-width="1.6"/><circle cx="171.40" cy="401.00" r="0.6" fill="#ff00ff"/><rect x="171.10" y="391.70" width="8.60" height="8.60" fill="none" stroke="#ff00ff" stroke-width="1.6"/><circle cx="175.40" cy="396.00" r="0.6" fill="#ff00ff"/><rect x="175.30" y="386.70" width="8.60" height="8.60" fill="none" stroke="#ff00ff" stroke-width="1.6"/><circle cx="179.60" cy="391.00" r="0.6" fill="#ff00ff"/><rect x="179.70" y="379.70" width="8.60" height="8.60" fill="none" stroke="#ff00ff" stroke-width="1.6"/><circle cx="184.00" cy="384.00" r="0.6" fill="#ff00ff"/><rect x="183.70" y="384.70" width="8.60" height="8.60" fill="none" stroke="#ff00ff" stroke-width="1.6"/><circle cx="188.00" cy="389.00" r="0.6" fill="#ff00ff"/><rect x="187.70" y="383.70" width="8.60" height="8.60" fill="none" stroke="#ff00ff" stroke-width="1.6"/><circle cx="192.00" cy="388.00" r="0.6" fill="#ff00ff"/><rect x="191.70" y="391.30" width="8.60" height="8.60" fill="none" stroke="#ff00ff" stroke-width="1.6"/><circle cx="196.00" cy="395.60" r="0.6" fill="#ff00ff"/><rect x="196.10" y="398.10" width="8.60" height="8.60" fill="none" stroke="#ff00ff" stroke-width="1.6"/><circle cx="200.40" cy="402.40" r="0.6" fill="#ff00ff"/><rect x="200.10" y="399.70" width="8.60" height="8.60" fill="none" stroke="#ff00ff" stroke-width="1.6"/><circle cx="204.40" cy="404.00" r="0.6" fill="#ff00ff"/><rect x="204.30" y="409.70" width="8.60" height="8.60" fill="none" stroke="#ff00ff" stroke-width="1.6"/><circle cx="208.60" cy="414.00" r="0.6" fill="#ff00ff"/><rect x="208.70" y="409.70" width="8.60" height="8.60" fill="none" stroke="#ff00ff" stroke-width="1.6"/><circle cx="213.00" cy="414.00" r="0.6" fill="#ff00ff"/><rect x="212.70" y="409.70" width="8.60" height="8.60" fill="none" stroke="#ff00ff" stroke-width="1.6"/><circle cx="217.00" cy="414.00" r="0.6" fill="#ff00ff"/><rect x="216.70" y="413.70" width="8.60" height="8.60" fill="none" stroke="#ff00ff" stroke-width="1.6"/><circle cx="221.00" cy="418.00" r="0.6" fill="#ff00ff"/><rect x="221.10" y="409.30" width="8.60" height="8.60" fill="none" stroke="#ff00ff" stroke-width="1.6"/><circle cx="225.40" cy="413.60" r="0.6" fill="#ff00ff"/><rect x="225.30" y="408.70" width="8.60" height="8.60" fill="none" stroke="#ff00ff" stroke-width="1.6"/><circle cx="229.60" cy="413.00" r="0.6" fill="#ff00ff"/><rect x="229.30" y="405.70" width="8.60" height="8.60" fill="none" stroke="#ff00ff" stroke-width="1.6"/><circle cx="233.60" cy="410.00" r="0.6" fill="#ff00ff"/><rect x="233.70" y="401.70" width="8.60" height="8.60" fill="none" stroke="#ff00ff" stroke-width="1.6"/><circle cx="238.00" cy="406.00" r="0.6" fill="#ff00ff"/><rect x="237.70" y="405.70" width="8.60" height="8.60" fill="none" stroke="#ff00ff" stroke-width="1.6"/><circle cx="242.00" cy="410.00" r="0.6" fill="#ff00ff"/><rect x="242.10" y="407.70" width="8.60" height="8.60" fill="none" stroke="#ff00ff" stroke-width="1.6"/><circle cx="246.40" cy="412.00" r="0.6" fill="#ff00ff"/><rect x="246.30" y="414.70" width="8.60" height="8.60" fill="none" stroke="#ff00ff" stroke-width="1.6"/><circle cx="250.60" cy="419.00" r="0.6" fill="#ff00ff"/><rect x="250.30" y="419.70" width="8.60" height="8.60" fill="none" stroke="#ff00ff" stroke-width="1.6"/><circle cx="254.60" cy="424.00" r="0.6" fill="#ff00ff"/><rect x="254.70" y="419.70" width="8.60" height="8.60" fill="none" stroke="#ff00ff" stroke-width="1.6"/><circle cx="259.00" cy="424.00" r="0.6" fill="#ff00ff"/><rect x="258.70" y="422.70" width="8.60" height="8.60" fill="none" stroke="#ff00ff" stroke-width="1.6"/><circle cx="263.00" cy="427.00" r="0.6" fill="#ff00ff"/><rect x="263.10" y="422.70" width="8.60" height="8.60" fill="none" stroke="#ff00ff" stroke-width="1.6"/><circle cx="267.40" cy="427.00" r="0.6" fill="#ff00ff"/><rect x="267.30" y="421.70" width="8.60" height="8.60" fill="none" stroke="#ff00ff" stroke-width="1.6"/><circle cx="271.60" cy="426.00" r="0.6" fill="#ff00ff"/><rect x="271.70" y="420.10" width="8.60" height="8.60" fill="none" stroke="#ff00ff" stroke-width="1.6"/><circle cx="276.00" cy="424.40" r="0.6" fill="#ff00ff"/><rect x="275.70" y="416.70" width="8.60" height="8.60" fill="none" stroke="#ff00ff" stroke-width="1.6"/><circle cx="280.00" cy="421.00" r="0.6" fill="#ff00ff"/><rect x="279.70" y="412.70" width="8.60" height="8.60" fill="none" stroke="#ff00ff" stroke-width="1.6"/><circle cx="284.00" cy="417.00" r="0.6" fill="#ff00ff"/><rect x="283.70" y="415.70" width="8.60" height="8.60" fill="none" stroke="#ff00ff" stroke-width="1.6"/><circle cx="288.00" cy="420.00" r="0.6" fill="#ff00ff"/><rect x="288.10" y="417.30" width="8.60" height="8.60" fill="none" stroke="#ff00ff" stroke-width="1.6"/><circle cx="292.40" cy="421.60" r="0.6" fill="#ff00ff"/><rect x="291.70" y="422.70" width="8.60" height="8.60" fill="none" stroke="#ff00ff" stroke-width="1.6"/><circle cx="296.00" cy="427.00" r="0.6" fill="#ff00ff"/><rect x="295.70" y="429.70" width="8.60" height="8.60" fill="none" stroke="#ff00ff" stroke-width="1.6"/><circle cx="300.00" cy="434.00" r="0.6" fill="#ff00ff"/><rect x="300.10" y="429.70" width="8.60" height="8.60" fill="none" stroke="#ff00ff" stroke-width="1.6"/><circle cx="304.40" cy="434.00" r="0.6" fill="#ff00ff"/><rect x="304.10" y="435.70" width="8.60" height="8.60" fill="none" stroke="#ff00ff" stroke-width="1.6"/><circle cx="308.40" cy="440.00" r="0.6" fill="#ff00ff"/><rect x="308.10" y="442.70" width="8.60" height="8.60" fill="none" stroke="#ff00ff" stroke-width="1.6"/><circle cx="312.40" cy="447.00" r="0.6" fill="#ff00ff"/><rect x="312.70" y="442.70" width="8.60" height="8.60" fill="none" stroke="#ff00ff" stroke-width="1.6"/><circle cx="317.00" cy="447.00" r="0.6" fill="#ff00ff"/><rect x="316.70" y="442.70" width="8.60" height="8.60" fill="none" stroke="#ff00ff" stroke-width="1.6"/><circle cx="321.00" cy="447.00" r="0.6" fill="#ff00ff"/><rect x="320.70" y="442.70" width="8.60" height="8.60" fill="none" stroke="#ff00ff" stroke-width="1.6"/><circle cx="325.00" cy="447.00" r="0.6" fill="#ff00ff"/><rect x="325.10" y="441.10" width="8.60" height="8.60" fill="none" stroke="#ff00ff" stroke-width="1.6"/><circle cx="329.40" cy="445.40" r="0.6" fill="#ff00ff"/><rect x="329.30" y="444.70" width="8.60" height="8.60" fill="none" stroke="#ff00ff" stroke-width="1.6"/><circle cx="333.60" cy="449.00" r="0.6" fill="#ff00ff"/><rect x="333.70" y="445.70" width="8.60" height="8.60" fill="none" stroke="#ff00ff" stroke-width="1.6"/><circle cx="338.00" cy="450.00" r="0.6" fill="#ff00ff"/><rect x="338.10" y="445.70" width="8.60" height="8.60" fill="none" stroke="#ff00ff" stroke-width="1.6"/><circle cx="342.40" cy="450.00" r="0.6" fill="#ff00ff"/><rect x="342.70" y="451.70" width="8.60" height="8.60" fill="none" stroke="#ff00ff" stroke-width="1.6"/><circle cx="347.00" cy="456.00" r="0.6" fill="#ff00ff"/><rect x="346.70" y="454.70" width="8.60" height="8.60" fill="none" stroke="#ff00ff" stroke-width="1.6"/><circle cx="351.00" cy="459.00" r="0.6" fill="#ff00ff"/><rect x="351.10" y="456.20" width="8.60" height="8.60" fill="none" stroke="#ff00ff" stroke-width="1.6"/><circle cx="355.40" cy="460.50" r="0.6" fill="#ff00ff"/><rect x="356.10" y="460.70" width="8.60" height="8.60" fill="none" stroke="#ff00ff" stroke-width="1.6"/><circle cx="360.40" cy="465.00" r="0.6" fill="#ff00ff"/><rect x="360.10" y="463.70" width="8.60" height="8.60" fill="none" stroke="#ff00ff" stroke-width="1.6"/><circle cx="364.40" cy="468.00" r="0.6" fill="#ff00ff"/><rect x="364.70" y="462.70" width="8.60" height="8.60" fill="none" stroke="#ff00ff" stroke-width="1.6"/><circle cx="369.00" cy="467.00" r="0.6" fill="#ff00ff"/><rect x="368.70" y="463.30" width="8.60" height="8.60" fill="none" stroke="#ff00ff" stroke-width="1.6"/><circle cx="373.00" cy="467.60" r="0.6" fill="#ff00ff"/><rect x="373.10" y="464.70" width="8.60" height="8.60" fill="none" stroke="#ff00ff" stroke-width="1.6"/><circle cx="377.40" cy="469.00" r="0.6" fill="#ff00ff"/><rect x="377.10" y="465.70" width="8.60" height="8.60" fill="none" stroke="#ff00ff" stroke-width="1.6"/><circle cx="381.40" cy="470.00" r="0.6" fill="#ff00ff"/><rect x="381.10" y="466.70" width="8.60" height="8.60" fill="none" stroke="#ff00ff" stroke-width="1.6"/><circle cx="385.40" cy="471.00" r="0.6" fill="#ff00ff"/><rect x="385.10" y="470.70" width="8.60" height="8.60" fill="none" stroke="#ff00ff" stroke-width="1.6"/><circle cx="389.40" cy="475.00" r="0.6" fill="#ff00ff"/><rect x="389.10" y="475.70" width="8.60" height="8.60" fill="none" stroke="#ff00ff" stroke-width="1.6"/><circle cx="393.40" cy="480.00" r="0.6" fill="#ff00ff"/><rect x="393.10" y="479.30" width="8.60" height="8.60" fill="none" stroke="#ff00ff" stroke-width="1.6"/><circle cx="397.40" cy="483.60" r="0.6" fill="#ff00ff"/><rect x="397.10" y="484.70" width="8.60" height="8.60" fill="none" stroke="#ff00ff" stroke-width="1.6"/><circle cx="401.40" cy="489.00" r="0.6" fill="#ff00ff"/><rect x="401.30" y="490.70" width="8.60" height="8.60" fill="none" stroke="#ff00ff" stroke-width="1.6"/><circle cx="405.60" cy="495.00" r="0.6" fill="#ff00ff"/><rect x="405.30" y="493.70" width="8.60" height="8.60" fill="none" stroke="#ff00ff" stroke-width="1.6"/><circle cx="409.60" cy="498.00" r="0.6" fill="#ff00ff"/><rect x="409.70" y="495.70" width="8.60" height="8.60" fill="none" stroke="#ff00ff" stroke-width="1.6"/><circle cx="414.00" cy="500.00" r="0.6" fill="#ff00ff"/><rect x="413.70" y="502.10" width="8.60" height="8.60" fill="none" stroke="#ff00ff" stroke-width="1.6"/><circle cx="418.00" cy="506.40" r="0.6" fill="#ff00ff"/><rect x="417.70" y="503.70" width="8.60" height="8.60" fill="none" stroke="#ff00ff" stroke-width="1.6"/><circle cx="422.00" cy="508.00" r="0.6" fill="#ff00ff"/><rect x="421.70" y="504.70" width="8.60" height="8.60" fill="none" stroke="#ff00ff" stroke-width="1.6"/><circle cx="426.00" cy="509.00" r="0.6" fill="#ff00ff"/><rect x="425.70" y="511.70" width="8.60" height="8.60" fill="none" stroke="#ff00ff" stroke-width="1.6"/><circle cx="430.00" cy="516.00" r="0.6" fill="#ff00ff"/><rect x="430.30" y="512.70" width="8.60" height="8.60" fill="none" stroke="#ff00ff" stroke-width="1.6"/><circle cx="434.60" cy="517.00" r="0.6" fill="#ff00ff"/><rect x="434.70" y="517.70" width="8.60" height="8.60" fill="none" stroke="#ff00ff" stroke-width="1.6"/><circle cx="439.00" cy="522.00" r="0.6" fill="#ff00ff"/><rect x="438.70" y="519.70" width="8.60" height="8.60" fill="none" stroke="#ff00ff" stroke-width="1.6"/><circle cx="443.00" cy="524.00" r="0.6" fill="#ff00ff"/><rect x="443.10" y="523.70" width="8.60" height="8.60" fill="none" stroke="#ff00ff" stroke-width="1.6"/><circle cx="447.40" cy="528.00" r="0.6" fill="#ff00ff"/><rect x="447.10" y="529.70" width="8.60" height="8.60" fill="none" stroke="#ff00ff" stroke-width="1.6"/><circle cx="451.40" cy="534.00" r="0.6" fill="#ff00ff"/><rect x="451.30" y="530.70" width="8.60" height="8.60" fill="none" stroke="#ff00ff" stroke-width="1.6"/><circle cx="455.60" cy="535.00" r="0.6" fill="#ff00ff"/><rect x="455.70" y="535.30" width="8.60" height="8.60" fill="none" stroke="#ff00ff" stroke-width="1.6"/><circle cx="460.00" cy="539.60" r="0.6" fill="#ff00ff"/><rect x="459.70" y="536.70" width="8.60" height="8.60" fill="none" stroke="#ff00ff" stroke-width="1.6"/><circle cx="464.00" cy="541.00" r="0.6" fill="#ff00ff"/><rect x="464.10" y="540.70" width="8.60" height="8.60" fill="none" stroke="#ff00ff" stroke-width="1.6"/><circle cx="468.40" cy="545.00" r="0.6" fill="#ff00ff"/><rect x="468.30" y="543.70" width="8.60" height="8.60" fill="none" stroke="#ff00ff" stroke-width="1.6"/><circle cx="472.60" cy="548.00" r="0.6" fill="#ff00ff"/><rect x="472.70" y="546.70" width="8.60" height="8.60" fill="none" stroke="#ff00ff" stroke-width="1.6"/><circle cx="477.00" cy="551.00" r="0.6" fill="#ff00ff"/><rect x="476.70" y="549.10" width="8.60" height="8.60" fill="none" stroke="#ff00ff" stroke-width="1.6"/><circle cx="481.00" cy="553.40" r="0.6" fill="#ff00ff"/><rect x="481.10" y="553.70" width="8.60" height="8.60" fill="none" stroke="#ff00ff" stroke-width="1.6"/><circle cx="485.40" cy="558.00" r="0.6" fill="#ff00ff"/><rect x="485.30" y="556.70" width="8.60" height="8.60" fill="none" stroke="#ff00ff" stroke-width="1.6"/><circle cx="489.60" cy="561.00" r="0.6" fill="#ff00ff"/><rect x="489.70" y="559.70" width="8.60" height="8.60" fill="none" stroke="#ff00ff" stroke-width="1.6"/><circle cx="494.00" cy="564.00" r="0.6" fill="#ff00ff"/><rect x="493.70" y="562.70" width="8.60" height="8.60" fill="none" stroke="#ff00ff" stroke-width="1.6"/><circle cx="498.00" cy="567.00" r="0.6" fill="#ff00ff"/><rect x="498.10" y="565.70" width="8.60" height="8.60" fill="none" stroke="#ff00ff" stroke-width="1.6"/><circle cx="502.40" cy="570.00" r="0.6" fill="#ff00ff"/><rect x="502.30" y="568.70" width="8.60" height="8.60" fill="none" stroke="#ff00ff" stroke-width="1.6"/><circle cx="506.60" cy="573.00" r="0.6" fill="#ff00ff"/><rect x="506.70" y="570.70" width="8.60" height="8.60" fill="none" stroke="#ff00ff" stroke-width="1.6"/><circle cx="511.00" cy="575.00" r="0.6" fill="#ff00ff"/><rect x="510.70" y="572.70" width="8.60" height="8.60" fill="none" stroke="#ff00ff" stroke-width="1.6"/><circle cx="515.00" cy="577.00" r="0.6" fill="#ff00ff"/><rect x="515.10" y="573.70" width="8.60" height="8.60" fill="none" stroke="#ff00ff" stroke-width="1.6"/><circle cx="519.40" cy="578.00" r="0.6" fill="#ff00ff"/><rect x="519.30" y="575.30" width="8.60" height="8.60" fill="none" stroke="#ff00ff" stroke-width="1.6"/><circle cx="523.60" cy="579.60" r="0.6" fill="#ff00ff"/><rect x="523.49" y="577.15" width="8.60" height="8.60" fill="none" stroke="#ff00ff" stroke-width="1.6"/><circle cx="527.79" cy="581.45" r="0.6" fill="#ff00ff"/><rect x="527.69" y="578.20" width="8.60" height="8.60" fill="none" stroke="#ff00ff" stroke-width="1.6"/><circle cx="531.99" cy="582.50" r="0.6" fill="#ff00ff"/><rect x="531.88" y="579.08" width="8.60" height="8.60" fill="none" stroke="#ff00ff" stroke-width="1.6"/><circle cx="536.18" cy="583.38" r="0.6" fill="#ff00ff"/><rect x="536.08" y="579.82" width="8.60" height="8.60" fill="none" stroke="#ff00ff" stroke-width="1.6"/><circle cx="540.38" cy="584.12" r="0.6" fill="#ff00ff"/><rect x="540.27" y="580.74" width="8.60" height="8.60" fill="none" stroke="#ff00ff" stroke-width="1.6"/><circle cx="544.57" cy="585.04" r="0.6" fill="#ff00ff"/><rect x="544.47" y="581.79" width="8.60" height="8.60" fill="none" stroke="#ff00ff" stroke-width="1.6"/><circle cx="548.77" cy="586.09" r="0.6" fill="#ff00ff"/><rect x="548.66" y="583.06" width="8.60" height="8.60" fill="none" stroke="#ff00ff" stroke-width="1.6"/><circle cx="552.96" cy="587.36" r="0.6" fill="#ff00ff"/><rect x="552.85" y="584.43" width="8.60" height="8.60" fill="none" stroke="#ff00ff" stroke-width="1.6"/><circle cx="557.15" cy="588.73" r="0.6" fill="#ff00ff"/><rect x="557.05" y="586.12" width="8.60" height="8.60" fill="none" stroke="#ff00ff" stroke-width="1.6"/><circle cx="561.35" cy="590.42" r="0.6" fill="#ff00ff"/><rect x="561.24" y="587.91" width="8.60" height="8.60" fill="none" stroke="#ff00ff" stroke-width="1.6"/><circle cx="565.54" cy="592.21" r="0.6" fill="#ff00ff"/><rect x="565.44" y="589.97" width="8.60" height="8.60" fill="none" stroke="#ff00ff" stroke-width="1.6"/><circle cx="569.74" cy="594.27" r="0.6" fill="#ff00ff"/><rect x="569.63" y="592.07" width="8.60" height="8.60" fill="none" stroke="#ff00ff" stroke-width="1.6"/><circle cx="573.93" cy="596.37" r="0.6" fill="#ff00ff"/><rect x="573.83" y="593.96" width="8.60" height="8.60" fill="none" stroke="#ff00ff" stroke-width="1.6"/><circle cx="578.12" cy="598.26" r="0.6" fill="#ff00ff"/><rect x="578.02" y="595.84" width="8.60" height="8.60" fill="none" stroke="#ff00ff" stroke-width="1.6"/><circle cx="582.32" cy="600.14" r="0.6" fill="#ff00ff"/><rect x="582.21" y="597.73" width="8.60" height="8.60" fill="none" stroke="#ff00ff" stroke-width="1.6"/><circle cx="586.51" cy="602.03" r="0.6" fill="#ff00ff"/><rect x="586.41" y="599.48" width="8.60" height="8.60" fill="none" stroke="#ff00ff" stroke-width="1.6"/><circle cx="590.71" cy="603.78" r="0.6" fill="#ff00ff"/><rect x="590.60" y="600.53" width="8.60" height="8.60" fill="none" stroke="#ff00ff" stroke-width="1.6"/><circle cx="594.90" cy="604.83" r="0.6" fill="#ff00ff"/><rect x="594.80" y="601.44" width="8.60" height="8.60" fill="none" stroke="#ff00ff" stroke-width="1.6"/><circle cx="599.10" cy="605.74" r="0.6" fill="#ff00ff"/><rect x="598.99" y="601.96" width="8.60" height="8.60" fill="none" stroke="#ff00ff" stroke-width="1.6"/><circle cx="603.29" cy="606.26" r="0.6" fill="#ff00ff"/><rect x="603.18" y="602.37" width="8.60" height="8.60" fill="none" stroke="#ff00ff" stroke-width="1.6"/><circle cx="607.48" cy="606.67" r="0.6" fill="#ff00ff"/><rect x="607.38" y="602.58" width="8.60" height="8.60" fill="none" stroke="#ff00ff" stroke-width="1.6"/><circle cx="611.68" cy="606.88" r="0.6" fill="#ff00ff"/><rect x="611.57" y="602.61" width="8.60" height="8.60" fill="none" stroke="#ff00ff" stroke-width="1.6"/><circle cx="615.87" cy="606.91" r="0.6" fill="#ff00ff"/><rect x="615.77" y="602.40" width="8.60" height="8.60" fill="none" stroke="#ff00ff" stroke-width="1.6"/><circle cx="620.07" cy="606.70" r="0.6" fill="#ff00ff"/><rect x="619.96" y="602.13" width="8.60" height="8.60" fill="none" stroke="#ff00ff" stroke-width="1.6"/><circle cx="624.26" cy="606.43" r="0.6" fill="#ff00ff"/><rect x="624.16" y="601.82" width="8.60" height="8.60" fill="none" stroke="#ff00ff" stroke-width="1.6"/><circle cx="628.46" cy="606.12" r="0.6" fill="#ff00ff"/><rect x="628.35" y="601.83" width="8.60" height="8.60" fill="none" stroke="#ff00ff" stroke-width="1.6"/><circle cx="632.65" cy="606.13" r="0.6" fill="#ff00ff"/><rect x="632.54" y="602.04" width="8.60" height="8.60" fill="none" stroke="#ff00ff" stroke-width="1.6"/><circle cx="636.84" cy="606.34" r="0.6" fill="#ff00ff"/><rect x="636.74" y="602.56" width="8.60" height="8.60" fill="none" stroke="#ff00ff" stroke-width="1.6"/><circle cx="641.04" cy="606.86" r="0.6" fill="#ff00ff"/><rect x="640.93" y="603.18" width="8.60" height="8.60" fill="none" stroke="#ff00ff" stroke-width="1.6"/><circle cx="645.23" cy="607.48" r="0.6" fill="#ff00ff"/><rect x="645.13" y="604.24" width="8.60" height="8.60" fill="none" stroke="#ff00ff" stroke-width="1.6"/><circle cx="649.43" cy="608.54" r="0.6" fill="#ff00ff"/><rect x="649.32" y="605.40" width="8.60" height="8.60" fill="none" stroke="#ff00ff" stroke-width="1.6"/><circle cx="653.62" cy="609.70" r="0.6" fill="#ff00ff"/><rect x="653.52" y="606.84" width="8.60" height="8.60" fill="none" stroke="#ff00ff" stroke-width="1.6"/><circle cx="657.82" cy="611.14" r="0.6" fill="#ff00ff"/><rect x="657.71" y="608.30" width="8.60" height="8.60" fill="none" stroke="#ff00ff" stroke-width="1.6"/><circle cx="662.01" cy="612.60" r="0.6" fill="#ff00ff"/><rect x="661.90" y="610.40" width="8.60" height="8.60" fill="none" stroke="#ff00ff" stroke-width="1.6"/><circle cx="666.20" cy="614.70" r="0.6" fill="#ff00ff"/><rect x="666.10" y="612.11" width="8.60" height="8.60" fill="none" stroke="#ff00ff" stroke-width="1.6"/><circle cx="670.40" cy="616.41" r="0.6" fill="#ff00ff"/><rect x="670.29" y="613.52" width="8.60" height="8.60" fill="none" stroke="#ff00ff" stroke-width="1.6"/><circle cx="674.59" cy="617.82" r="0.6" fill="#ff00ff"/><rect x="674.49" y="614.73" width="8.60" height="8.60" fill="none" stroke="#ff00ff" stroke-width="1.6"/><circle cx="678.79" cy="619.03" r="0.6" fill="#ff00ff"/><rect x="678.68" y="615.83" width="8.60" height="8.60" fill="none" stroke="#ff00ff" stroke-width="1.6"/><circle cx="682.98" cy="620.13" r="0.6" fill="#ff00ff"/><rect x="682.88" y="616.30" width="8.60" height="8.60" fill="none" stroke="#ff00ff" stroke-width="1.6"/><circle cx="687.18" cy="620.60" r="0.6" fill="#ff00ff"/><rect x="687.07" y="616.56" width="8.60" height="8.60" fill="none" stroke="#ff00ff" stroke-width="1.6"/><circle cx="691.37" cy="620.86" r="0.6" fill="#ff00ff"/><rect x="691.26" y="616.82" width="8.60" height="8.60" fill="none" stroke="#ff00ff" stroke-width="1.6"/><circle cx="695.56" cy="621.12" r="0.6" fill="#ff00ff"/><rect x="695.46" y="616.62" width="8.60" height="8.60" fill="none" stroke="#ff00ff" stroke-width="1.6"/><circle cx="699.76" cy="620.92" r="0.6" fill="#ff00ff"/><rect x="699.65" y="616.23" width="8.60" height="8.60" fill="none" stroke="#ff00ff" stroke-width="1.6"/><circle cx="703.95" cy="620.53" r="0.6" fill="#ff00ff"/><rect x="703.85" y="615.84" width="8.60" height="8.60" fill="none" stroke="#ff00ff" stroke-width="1.6"/><circle cx="708.15" cy="620.14" r="0.6" fill="#ff00ff"/><rect x="708.04" y="615.38" width="8.60" height="8.60" fill="none" stroke="#ff00ff" stroke-width="1.6"/><circle cx="712.34" cy="619.68" r="0.6" fill="#ff00ff"/><rect x="712.23" y="614.89" width="8.60" height="8.60" fill="none" stroke="#ff00ff" stroke-width="1.6"/><circle cx="716.53" cy="619.19" r="0.6" fill="#ff00ff"/><rect x="716.43" y="614.40" width="8.60" height="8.60" fill="none" stroke="#ff00ff" stroke-width="1.6"/><circle cx="720.73" cy="618.70" r="0.6" fill="#ff00ff"/><rect x="720.62" y="614.20" width="8.60" height="8.60" fill="none" stroke="#ff00ff" stroke-width="1.6"/><circle cx="724.92" cy="618.50" r="0.6" fill="#ff00ff"/><rect x="724.82" y="614.20" width="8.60" height="8.60" fill="none" stroke="#ff00ff" stroke-width="1.6"/><circle cx="729.12" cy="618.50" r="0.6" fill="#ff00ff"/><rect x="729.01" y="614.20" width="8.60" height="8.60" fill="none" stroke="#ff00ff" stroke-width="1.6"/><circle cx="733.31" cy="618.50" r="0.6" fill="#ff00ff"/><rect x="733.21" y="614.41" width="8.60" height="8.60" fill="none" stroke="#ff00ff" stroke-width="1.6"/><circle cx="737.51" cy="618.71" r="0.6" fill="#ff00ff"/><rect x="737.40" y="614.79" width="8.60" height="8.60" fill="none" stroke="#ff00ff" stroke-width="1.6"/><circle cx="741.70" cy="619.09" r="0.6" fill="#ff00ff"/></g>
<g><path d="M86.50 93.60L91.00 95.00L95.60 95.60L99.40 83.00L104.00 81.60L108.00 68.60L112.00 54.40L117.00 54.40L120.60 42.60L125.00 45.00L129.60 45.00L133.60 39.00L137.60 50.00L142.40 46.40L145.60 62.40L150.00 67.40L154.40 81.00L158.40 93.00L162.60 102.40L166.40 115.60L171.00 118.00L175.40 127.40L179.60 121.00L184.00 123.00L188.00 112.00L192.00 105.40L196.40 95.60L200.40 82.60L205.00 80.60L208.60 66.60L212.60 71.60L217.00 63.00L221.00 68.60L225.00 69.00L229.60 73.00L233.60 82.60L238.00 82.60L242.00 98.00L246.40 97.60L250.00 112.00L254.00 117.60L258.40 121.00L262.60 130.00L267.00 126.00L271.40 130.00L275.60 121.00L280.00 116.50L284.40 107.40L288.40 98.00L292.60 96.60L296.40 86.00L300.40 93.00L304.60 89.00L308.40 94.00L312.60 99.00L317.40 98.00L321.00 111.00L325.60 110.00L329.60 124.00L333.60 133.40L338.00 141.00L342.00 151.00L346.40 150.00L350.60 155.60L355.00 147.00L359.40 144.40L363.40 144.00L367.00 133.00L371.40 135.00L375.60 127.00L380.00 121.60L384.40 119.40L388.00 112.00L392.40 119.00L396.60 120.00L400.40 129.60L404.40 136.00L409.00 136.00L412.60 147.40L417.40 147.40L421.40 155.00L425.40 164.60L429.60 164.00L433.60 168.60L438.00 160.60L442.00 158.00L446.40 160.00L450.60 152.60L455.00 155.40L459.00 152.00L463.00 145.40L467.60 148.00L471.60 148.60L475.40 159.00L479.40 164.40L483.60 164.00L487.40 173.40L492.00 178.00L496.00 187.00L500.00 195.40L504.40 192.60L508.60 195.40L512.40 197.00L517.00 195.00L521.00 198.00L525.40 191.60L529.40 185.40L533.60 189.00L538.00 187.40L542.00 189.00L546.00 190.40L550.60 189.40L554.00 200.60L558.40 208.00L562.60 207.40L566.60 214.60L570.60 222.00L575.00 227.00L579.40 231.00L583.60 229.00L587.60 230.60L592.00 236.60L596.00 233.00L600.00 230.00L604.40 238.00L609.00 240.00L613.00 238.00L616.60 246.00L621.00 253.60L625.00 256.40L629.40 262.40L633.40 271.60L637.60 276.00L641.60 279.40L645.60 286.00L650.00 290.00L654.00 289.40L658.00 295.40L662.60 298.60L667.00 297.00L670.60 306.60L675.00 312.60L679.40 312.60L683.40 326.00L687.60 333.00L692.00 340.00L696.00 349.50L700.40 356.60L704.40 370.00L708.60 375.40L712.60 384.60L716.60 393.60L721.00 400.40L725.00 409.40L729.40 413.00L733.40 423.40L738.00 427.40L741.60 437.60L746.00 440.00L750.00 449.40L754.40 451.60L758.40 460.40L762.60 462.40L767.00 468.40L771.16 474.93L775.32 480.96L779.48 485.64L783.64 490.24L787.80 494.40L791.97 498.75L796.13 503.50L800.29 508.22L804.45 512.90L808.61 517.41L812.77 521.57L816.93 525.73L821.09 529.89L825.25 533.94L829.41 537.06L833.57 540.18L837.73 542.27L841.90 544.35L846.06 546.76L850.22 549.22L854.38 551.54L858.54 553.39L862.70 555.24L866.86 557.34L871.02 559.61L875.18 561.88L879.34 564.63L883.50 567.40L887.67 570.52L891.83 573.42L895.99 575.89L900.15 577.99L904.31 580.41L908.47 582.88L912.63 584.87L916.79 585.90L920.95 587.09L925.11 588.37L929.27 589.21L933.43 589.59L937.60 590.38L941.76 590.89L945.92 591.39L950.08 591.87L954.24 592.56L958.40 592.89" fill="none" stroke="#ff4500" stroke-width="1.6" stroke-dasharray="1.3,1,1.3,1,1.3,2.2"/><path d="M86.50 88.78L82.20 95.75L90.80 95.75Z" fill="none" stroke="#ff4500" stroke-width="1.6"/><circle cx="86.50" cy="93.60" r="0.6" fill="#ff4500"/><path d="M91.00 90.18L86.70 97.15L95.30 97.15Z" fill="none" stroke="#ff4500" stroke-width="1.6"/><circle cx="91.00" cy="95.00" r="0.6" fill="#ff4500"/><path d="M95.60 90.78L91.30 97.75L99.90 97.75Z" fill="none" stroke="#ff4500" stroke-width="1.6"/><circle cx="95.60" cy="95.60" r="0.6" fill="#ff4500"/><path d="M99.40 78.18L95.10 85.15L103.70 85.15Z" fill="none" stroke="#ff4500" stroke-width="1.6"/><circle cx="99.40" cy="83.00" r="0.6" fill="#ff4500"/><path d="M104.00 76.78L99.70 83.75L108.30 83.75Z" fill="none" stroke="#ff4500" stroke-width="1.6"/><circle cx="104.00" cy="81.60" r="0.6" fill="#ff4500"/><path d="M108.00 63.78L103.70 70.75L112.30 70.75Z" fill="none" stroke="#ff4500" stroke-width="1.6"/><circle cx="108.00" cy="68.60" r="0.6" fill="#ff4500"/><path d="M112.00 49.58L107.70 56.55L116.30 56.55Z" fill="none" stroke="#ff4500" stroke-width="1.6"/><circle cx="112.00" cy="54.40" r="0.6" fill="#ff4500"/><path d="M117.00 49.58L112.70 56.55L121.30 56.55Z" fill="none" stroke="#ff4500" stroke-width="1.6"/><circle cx="117.00" cy="54.40" r="0.6" fill="#ff4500"/><path d="M120.60 37.78L116.30 44.75L124.90 44.75Z" fill="none" stroke="#ff4500" stroke-width="1.6"/><circle cx="120.60" cy="42.60" r="0.6" fill="#ff4500"/><path d="M125.00 40.18L120.70 47.15L129.30 47.15Z" fill="none" stroke="#ff4500" stroke-width="1.6"/><circle cx="125.00" cy="45.00" r="0.6" fill="#ff4500"/><path d="M129.60 40.18L125.30 47.15L133.90 47.15Z" fill="none" stroke="#ff4500" stroke-width="1.6"/><circle cx="129.60" cy="45.00" r="0.6" fill="#ff4500"/><path d="M133.60 34.18L129.30 41.15L137.90 41.15Z" fill="none" stroke="#ff4500" stroke-width="1.6"/><circle cx="133.60" cy="39.00" r="0.6" fill="#ff4500"/><path d="M137.60 45.18L133.30 52.15L141.90 52.15Z" fill="none" stroke="#ff4500" stroke-width="1.6"/><circle cx="137.60" cy="50.00" r="0.6" fill="#ff4500"/><path d="M142.40 41.58L138.10 48.55L146.70 48.55Z" fill="none" stroke="#ff4500" stroke-width="1.6"/><circle cx="142.40" cy="46.40" r="0.6" fill="#ff4500"/><path d="M145.60 57.58L141.30 64.55L149.90 64.55Z" fill="none" stroke="#ff4500" stroke-width="1.6"/><circle cx="145.60" cy="62.40" r="0.6" fill="#ff4500"/><path d="M150.00 62.58L145.70 69.55L154.30 69.55Z" fill="none" stroke="#ff4500" stroke-width="1.6"/><circle cx="150.00" cy="67.40" r="0.6" fill="#ff4500"/><path d="M154.40 76.18L150.10 83.15L158.70 83.15Z" fill="none" stroke="#ff4500" stroke-width="1.6"/><circle cx="154.40" cy="81.00" r="0.6" fill="#ff4500"/><path d="M158.40 88.18L154.10 95.15L162.70 95.15Z" fill="none" stroke="#ff4500" stroke-width="1.6"/><circle cx="158.40" cy="93.00" r="0.6" fill="#ff4500"/><path d="M162.60 97.58L158.30 104.55L166.90 104.55Z" fill="none" stroke="#ff4500" stroke-width="1.6"/><circle cx="162.60" cy="102.40" r="0.6" fill="#ff4500"/><path d="M166.40 110.78L162.10 117.75L170.70 117.75Z" fill="none" stroke="#ff4500" stroke-width="1.6"/><circle cx="166.40" cy="115.60" r="0.6" fill="#ff4500"/><path d="M171.00 113.18L166.70 120.15L175.30 120.15Z" fill="none" stroke="#ff4500" stroke-width="1.6"/><circle cx="171.00" cy="118.00" r="0.6" fill="#ff4500"/><path d="M175.40 122.58L171.10 129.55L179.70 129.55Z" fill="none" stroke="#ff4500" stroke-width="1.6"/><circle cx="175.40" cy="127.40" r="0.6" fill="#ff4500"/><path d="M179.60 116.18L175.30 123.15L183.90 123.15Z" fill="none" stroke="#ff4500" stroke-width="1.6"/><circle cx="179.60" cy="121.00" r="0.6" fill="#ff4500"/><path d="M184.00 118.18L179.70 125.15L188.30 125.15Z" fill="none" stroke="#ff4500" stroke-width="1.6"/><circle cx="184.00" cy="123.00" r="0.6" fill="#ff4500"/><path d="M188.00 107.18L183.70 114.15L192.30 114.15Z" fill="none" stroke="#ff4500" stroke-width="1.6"/><circle cx="188.00" cy="112.00" r="0.6" fill="#ff4500"/><path d="M192.00 100.58L187.70 107.55L196.30 107.55Z" fill="none" stroke="#ff4500" stroke-width="1.6"/><circle cx="192.00" cy="105.40" r="0.6" fill="#ff4500"/><path d="M196.40 90.78L192.10 97.75L200.70 97.75Z" fill="none" stroke="#ff4500" stroke-width="1.6"/><circle cx="196.40" cy="95.60" r="0.6" fill="#ff4500"/><path d="M200.40 77.78L196.10 84.75L204.70 84.75Z" fill="none" stroke="#ff4500" stroke-width="1.6"/><circle cx="200.40" cy="82.60" r="0.6" fill="#ff4500"/><path d="M205.00 75.78L200.70 82.75L209.30 82.75Z" fill="none" stroke="#ff4500" stroke-width="1.6"/><circle cx="205.00" cy="80.60" r="0.6" fill="#ff4500"/><path d="M208.60 61.78L204.30 68.75L212.90 68.75Z" fill="none" stroke="#ff4500" stroke-width="1.6"/><circle cx="208.60" cy="66.60" r="0.6" fill="#ff4500"/><path d="M212.60 66.78L208.30 73.75L216.90 73.75Z" fill="none" stroke="#ff4500" stroke-width="1.6"/><circle cx="212.60" cy="71.60" r="0.6" fill="#ff4500"/><path d="M217.00 58.18L212.70 65.15L221.30 65.15Z" fill="none" stroke="#ff4500" stroke-width="1.6"/><circle cx="217.00" cy="63.00" r="0.6" fill="#ff4500"/><path d="M221.00 63.78L216.70 70.75L225.30 70.75Z" fill="none" stroke="#ff4500" stroke-width="1.6"/><circle cx="221.00" cy="68.60" r="0.6" fill="#ff4500"/><path d="M225.00 64.18L220.70 71.15L229.30 71.15Z" fill="none" stroke="#ff4500" stroke-width="1.6"/><circle cx="225.00" cy="69.00" r="0.6" fill="#ff4500"/><path d="M229.60 68.18L225.30 75.15L233.90 75.15Z" fill="none" stroke="#ff4500" stroke-width="1.6"/><circle cx="229.60" cy="73.00" r="0.6" fill="#ff4500"/><path d="M233.60 77.78L229.30 84.75L237.90 84.75Z" fill="none" stroke="#ff4500" stroke-width="1.6"/><circle cx="233.60" cy="82.60" r="0.6" fill="#ff4500"/><path d="M238.00 77.78L233.70 84.75L242.30 84.75Z" fill="none" stroke="#ff4500" stroke-width="1.6"/><circle cx="238.00" cy="82.60" r="0.6" fill="#ff4500"/><path d="M242.00 93.18L237.70 100.15L246.30 100.15Z" fill="none" stroke="#ff4500" stroke-width="1.6"/><circle cx="242.00" cy="98.00" r="0.6" fill="#ff4500"/><path d="M246.40 92.78L242.10 99.75L250.70 99.75Z" fill="none" stroke="#ff4500" stroke-width="1.6"/><circle cx="246.40" cy="97.60" r="0.6" fill="#ff4500"/><path d="M250.00 107.18L245.70 114.15L254.30 114.15Z" fill="none" stroke="#ff4500" stroke-width="1.6"/><circle cx="250.00" cy="112.00" r="0.6" fill="#ff4500"/><path d="M254.00 112.78L249.70 119.75L258.30 119.75Z" fill="none" stroke="#ff4500" stroke-width="1.6"/><circle cx="254.00" cy="117.60" r="0.6" fill="#ff4500"/><path d="M258.40 116.18L254.10 123.15L262.70 123.15Z" fill="none" stroke="#ff4500" stroke-width="1.6"/><circle cx="258.40" cy="121.00" r="0.6" fill="#ff4500"/><path d="M262.60 125.18L258.30 132.15L266.90 132.15Z" fill="none" stroke="#ff4500" stroke-width="1.6"/><circle cx="262.60" cy="130.00" r="0.6" fill="#ff4500"/><path d="M267.00 121.18L262.70 128.15L271.30 128.15Z" fill="none" stroke="#ff4500" stroke-width="1.6"/><circle cx="267.00" cy="126.00" r="0.6" fill="#ff4500"/><path d="M271.40 125.18L267.10 132.15L275.70 132.15Z" fill="none" stroke="#ff4500" stroke-width="1.6"/><circle cx="271.40" cy="130.00" r="0.6" fill="#ff4500"/><path d="M275.60 116.18L271.30 123.15L279.90 123.15Z" fill="none" stroke="#ff4500" stroke-width="1.6"/><circle cx="275.60" cy="121.00" r="0.6" fill="#ff4500"/><path d="M280.00 111.68L275.70 118.65L284.30 118.65Z" fill="none" stroke="#ff4500" stroke-width="1.6"/><circle cx="280.00" cy="116.50" r="0.6" fill="#ff4500"/><path d="M284.40 102.58L280.10 109.55L288.70 109.55Z" fill="none" stroke="#ff4500" stroke-width="1.6"/><circle cx="284.40" cy="107.40" r="0.6" fill="#ff4500"/><path d="M288.40 93.18L284.10 100.15L292.70 100.15Z" fill="none" stroke="#ff4500" stroke-width="1.6"/><circle cx="288.40" cy="98.00" r="0.6" fill="#ff4500"/><path d="M292.60 91.78L288.30 98.75L296.90 98.75Z" fill="none" stroke="#ff4500" stroke-width="1.6"/><circle cx="292.60" cy="96.60" r="0.6" fill="#ff4500"/><path d="M296.40 81.18L292.10 88.15L300.70 88.15Z" fill="none" stroke="#ff4500" stroke-width="1.6"/><circle cx="296.40" cy="86.00" r="0.6" fill="#ff4500"/><path d="M300.40 88.18L296.10 95.15L304.70 95.15Z" fill="none" stroke="#ff4500" stroke-width="1.6"/><circle cx="300.40" cy="93.00" r="0.6" fill="#ff4500"/><path d="M304.60 84.18L300.30 91.15L308.90 91.15Z" fill="none" stroke="#ff4500" stroke-width="1.6"/><circle cx="304.60" cy="89.00" r="0.6" fill="#ff4500"/><path d="M308.40 89.18L304.10 96.15L312.70 96.15Z" fill="none" stroke="#ff4500" stroke-width="1.6"/><circle cx="308.40" cy="94.00" r="0.6" fill="#ff4500"/><path d="M312.60 94.18L308.30 101.15L316.90 101.15Z" fill="none" stroke="#ff4500" stroke-width="1.6"/><circle cx="312.60" cy="99.00" r="0.6" fill="#ff4500"/><path d="M317.40 93.18L313.10 100.15L321.70 100.15Z" fill="none" stroke="#ff4500" stroke-width="1.6"/><circle cx="317.40" cy="98.00" r="0.6" fill="#ff4500"/><path d="M321.00 106.18L316.70 113.15L325.30 113.15Z" fill="none" stroke="#ff4500" stroke-width="1.6"/><circle cx="321.00" cy="111.00" r="0.6" fill="#ff4500"/><path d="M325.60 105.18L321.30 112.15L329.90 112.15Z" fill="none" stroke="#ff4500" stroke-width="1.6"/><circle cx="325.60" cy="110.00" r="0.6" fill="#ff4500"/><path d="M329.60 119.18L325.30 126.15L333.90 126.15Z" fill="none" stroke="#ff4500" stroke-width="1.6"/><circle cx="329.60" cy="124.00" r="0.6" fill="#ff4500"/><path d="M333.60 128.58L329.30 135.55L337.90 135.55Z" fill="none" stroke="#ff4500" stroke-width="1.6"/><circle cx="333.60" cy="133.40" r="0.6" fill="#ff4500"/><path d="M338.00 136.18L333.70 143.15L342.30 143.15Z" fill="none" stroke="#ff4500" stroke-width="1.6"/><circle cx="338.00" cy="141.00" r="0.6" fill="#ff4500"/><path d="M342.00 146.18L337.70 153.15L346.30 153.15Z" fill="none" stroke="#ff4500" stroke-width="1.6"/><circle cx="342.00" cy="151.00" r="0.6" fill="#ff4500"/><path d="M346.40 145.18L342.10 152.15L350.70 152.15Z" fill="none" stroke="#ff4500" stroke-width="1.6"/><circle cx="346.40" cy="150.00" r="0.6" fill="#ff4500"/><path d="M350.60 150.78L346.30 157.75L354.90 157.75Z" fill="none" stroke="#ff4500" stroke-width="1.6"/><circle cx="350.60" cy="155.60" r="0.6" fill="#ff4500"/><path d="M355.00 142.18L350.70 149.15L359.30 149.15Z" fill="none" stroke="#ff4500" stroke-width="1.6"/><circle cx="355.00" cy="147.00" r="0.6" fill="#ff4500"/><path d="M359.40 139.58L355.10 146.55L363.70 146.55Z" fill="none" stroke="#ff4500" stroke-width="1.6"/><circle cx="359.40" cy="144.40" r="0.6" fill="#ff4500"/><path d="M363.40 139.18L359.10 146.15L367.70 146.15Z" fill="none" stroke="#ff4500" stroke-width="1.6"/><circle cx="363.40" cy="144.00" r="0.6" fill="#ff4500"/><path d="M367.00 128.18L362.70 135.15L371.30 135.15Z" fill="none" stroke="#ff4500" stroke-width="1.6"/><circle cx="367.00" cy="133.00" r="0.6" fill="#ff4500"/><path d="M371.40 130.18L367.10 137.15L375.70 137.15Z" fill="none" stroke="#ff4500" stroke-width="1.6"/><circle cx="371.40" cy="135.00" r="0.6" fill="#ff4500"/><path d="M375.60 122.18L371.30 129.15L379.90 129.15Z" fill="none" stroke="#ff4500" stroke-width="1.6"/><circle cx="375.60" cy="127.00" r="0.6" fill="#ff4500"/><path d="M380.00 116.78L375.70 123.75L384.30 123.75Z" fill="none" stroke="#ff4500" stroke-width="1.6"/><circle cx="380.00" cy="121.60" r="0.6" fill="#ff4500"/><path d="M384.40 114.58L380.10 121.55L388.70 121.55Z" fill="none" stroke="#ff4500" stroke-width="1.6"/><circle cx="384.40" cy="119.40" r="0.6" fill="#ff4500"/><path d="M388.00 107.18L383.70 114.15L392.30 114.15Z" fill="none" stroke="#ff4500" stroke-width="1.6"/><circle cx="388.00" cy="112.00" r="0.6" fill="#ff4500"/><path d="M392.40 114.18L388.10 121.15L396.70 121.15Z" fill="none" stroke="#ff4500" stroke-width="1.6"/><circle cx="392.40" cy="119.00" r="0.6" fill="#ff4500"/><path d="M396.60 115.18L392.30 122.15L400.90 122.15Z" fill="none" stroke="#ff4500" stroke-width="1.6"/><circle cx="396.60" cy="120.00" r="0.6" fill="#ff4500"/><path d="M400.40 124.78L396.10 131.75L404.70 131.75Z" fill="none" stroke="#ff4500" stroke-width="1.6"/><circle cx="400.40" cy="129.60" r="0.6" fill="#ff4500"/><path d="M404.40 131.18L400.10 138.15L408.70 138.15Z" fill="none" stroke="#ff4500" stroke-width="1.6"/><circle cx="404.40" cy="136.00" r="0.6" fill="#ff4500"/><path d="M409.00 131.18L404.70 138.15L413.30 138.15Z" fill="none" stroke="#ff4500" stroke-width="1.6"/><circle cx="409.00" cy="136.00" r="0.6" fill="#ff4500"/><path d="M412.60 142.58L408.30 149.55L416.90 149.55Z" fill="none" stroke="#ff4500" stroke-width="1.6"/><circle cx="412.60" cy="147.40" r="0.6" fill="#ff4500"/><path d="M417.40 142.58L413.10 149.55L421.70 149.55Z" fill="none" stroke="#ff4500" stroke-width="1.6"/><circle cx="417.40" cy="147.40" r="0.6" fill="#ff4500"/><path d="M421.40 150.18L417.10 157.15L425.70 157.15Z" fill="none" stroke="#ff4500" stroke-width="1.6"/><circle cx="421.40" cy="155.00" r="0.6" fill="#ff4500"/><path d="M425.40 159.78L421.10 166.75L429.70 166.75Z" fill="none" stroke="#ff4500" stroke-width="1.6"/><circle cx="425.40" cy="164.60" r="0.6" fill="#ff4500"/><path d="M429.60 159.18L425.30 166.15L433.90 166.15Z" fill="none" stroke="#ff4500" stroke-width="1.6"/><circle cx="429.60" cy="164.00" r="0.6" fill="#ff4500"/><path d="M433.60 163.78L429.30 170.75L437.90 170.75Z" fill="none" stroke="#ff4500" stroke-width="1.6"/><circle cx="433.60" cy="168.60" r="0.6" fill="#ff4500"/><path d="M438.00 155.78L433.70 162.75L442.30 162.75Z" fill="none" stroke="#ff4500" stroke-width="1.6"/><circle cx="438.00" cy="160.60" r="0.6" fill="#ff4500"/><path d="M442.00 153.18L437.70 160.15L446.30 160.15Z" fill="none" stroke="#ff4500" stroke-width="1.6"/><circle cx="442.00" cy="158.00" r="0.6" fill="#ff4500"/><path d="M446.40 155.18L442.10 162.15L450.70 162.15Z" fill="none" stroke="#ff4500" stroke-width="1.6"/><circle cx="446.40" cy="160.00" r="0.6" fill="#ff4500"/><path d="M450.60 147.78L446.30 154.75L454.90 154.75Z" fill="none" stroke="#ff4500" stroke-width="1.6"/><circle cx="450.60" cy="152.60" r="0.6" fill="#ff4500"/><path d="M455.00 150.58L450.70 157.55L459.30 157.55Z" fill="none" stroke="#ff4500" stroke-width="1.6"/><circle cx="455.00" cy="155.40" r="0.6" fill="#ff4500"/><path d="M459.00 147.18L454.70 154.15L463.30 154.15Z" fill="none" stroke="#ff4500" stroke-width="1.6"/><circle cx="459.00" cy="152.00" r="0.6" fill="#ff4500"/><path d="M463.00 140.58L458.70 147.55L467.30 147.55Z" fill="none" stroke="#ff4500" stroke-width="1.6"/><circle cx="463.00" cy="145.40" r="0.6" fill="#ff4500"/><path d="M467.60 143.18L463.30 150.15L471.90 150.15Z" fill="none" stroke="#ff4500" stroke-width="1.6"/><circle cx="467.60" cy="148.00" r="0.6" fill="#ff4500"/><path d="M471.60 143.78L467.30 150.75L475.90 150.75Z" fill="none" stroke="#ff4500" stroke-width="1.6"/><circle cx="471.60" cy="148.60" r="0.6" fill="#ff4500"/><path d="M475.40 154.18L471.10 161.15L479.70 161.15Z" fill="none" stroke="#ff4500" stroke-width="1.6"/><circle cx="475.40" cy="159.00" r="0.6" fill="#ff4500"/><path d="M479.40 159.58L475.10 166.55L483.70 166.55Z" fill="none" stroke="#ff4500" stroke-width="1.6"/><circle cx="479.40" cy="164.40" r="0.6" fill="#ff4500"/><path d="M483.60 159.18L479.30 166.15L487.90 166.15Z" fill="none" stroke="#ff4500" stroke-width="1.6"/><circle cx="483.60" cy="164.00" r="0.6" fill="#ff4500"/><path d="M487.40 168.58L483.10 175.55L491.70 175.55Z" fill="none" stroke="#ff4500" stroke-width="1.6"/><circle cx="487.40" cy="173.40" r="0.6" fill="#ff4500"/><path d="M492.00 173.18L487.70 180.15L496.30 180.15Z" fill="none" stroke="#ff4500" stroke-width="1.6"/><circle cx="492.00" cy="178.00" r="0.6" fill="#ff4500"/><path d="M496.00 182.18L491.70 189.15L500.30 189.15Z" fill="none" stroke="#ff4500" stroke-width="1.6"/><circle cx="496.00" cy="187.00" r="0.6" fill="#ff4500"/><path d="M500.00 190.58L495.70 197.55L504.30 197.55Z" fill="none" stroke="#ff4500" stroke-width="1.6"/><circle cx="500.00" cy="195.40" r="0.6" fill="#ff4500"/><path d="M504.40 187.78L500.10 194.75L508.70 194.75Z" fill="none" stroke="#ff4500" stroke-width="1.6"/><circle cx="504.40" cy="192.60" r="0.6" fill="#ff4500"/><path d="M508.60 190.58L504.30 197.55L512.90 197.55Z" fill="none" stroke="#ff4500" stroke-width="1.6"/><circle cx="508.60" cy="195.40" r="0.6" fill="#ff4500"/><path d="M512.40 192.18L508.10 199.15L516.70 199.15Z" fill="none" stroke="#ff4500" stroke-width="1.6"/><circle cx="512.40" cy="197.00" r="0.6" fill="#ff4500"/><path d="M517.00 190.18L512.70 197.15L521.30 197.15Z" fill="none" stroke="#ff4500" stroke-width="1.6"/><circle cx="517.00" cy="195.00" r="0.6" fill="#ff4500"/><path d="M521.00 193.18L516.70 200.15L525.30 200.15Z" fill="none" stroke="#ff4500" stroke-width="1.6"/><circle cx="521.00" cy="198.00" r="0.6" fill="#ff4500"/><path d="M525.40 186.78L521.10 193.75L529.70 193.75Z" fill="none" stroke="#ff4500" stroke-width="1.6"/><circle cx="525.40" cy="191.60" r="0.6" fill="#ff4500"/><path d="M529.40 180.58L525.10 187.55L533.70 187.55Z" fill="none" stroke="#ff4500" stroke-width="1.6"/><circle cx="529.40" cy="185.40" r="0.6" fill="#ff4500"/><path d="M533.60 184.18L529.30 191.15L537.90 191.15Z" fill="none" stroke="#ff4500" stroke-width="1.6"/><circle cx="533.60" cy="189.00" r="0.6" fill="#ff4500"/><path d="M538.00 182.58L533.70 189.55L542.30 189.55Z" fill="none" stroke="#ff4500" stroke-width="1.6"/><circle cx="538.00" cy="187.40" r="0.6" fill="#ff4500"/><path d="M542.00 184.18L537.70 191.15L546.30 191.15Z" fill="none" stroke="#ff4500" stroke-width="1.6"/><circle cx="542.00" cy="189.00" r="0.6" fill="#ff4500"/><path d="M546.00 185.58L541.70 192.55L550.30 192.55Z" fill="none" stroke="#ff4500" stroke-width="1.6"/><circle cx="546.00" cy="190.40" r="0.6" fill="#ff4500"/><path d="M550.60 184.58L546.30 191.55L554.90 191.55Z" fill="none" stroke="#ff4500" stroke-width="1.6"/><circle cx="550.60" cy="189.40" r="0.6" fill="#ff4500"/><path d="M554.00 195.78L549.70 202.75L558.30 202.75Z" fill="none" stroke="#ff4500" stroke-width="1.6"/><circle cx="554.00" cy="200.60" r="0.6" fill="#ff4500"/><path d="M558.40 203.18L554.10 210.15L562.70 210.15Z" fill="none" stroke="#ff4500" stroke-width="1.6"/><circle cx="558.40" cy="208.00" r="0.6" fill="#ff4500"/><path d="M562.60 202.58L558.30 209.55L566.90 209.55Z" fill="none" stroke="#ff4500" stroke-width="1.6"/><circle cx="562.60" cy="207.40" r="0.6" fill="#ff4500"/><path d="M566.60 209.78L562.30 216.75L570.90 216.75Z" fill="none" stroke="#ff4500" stroke-width="1.6"/><circle cx="566.60" cy="214.60" r="0.6" fill="#ff4500"/><path d="M570.60 217.18L566.30 224.15L574.90 224.15Z" fill="none" stroke="#ff4500" stroke-width="1.6"/><circle cx="570.60" cy="222.00" r="0.6" fill="#ff4500"/><path d="M575.00 222.18L570.70 229.15L579.30 229.15Z" fill="none" stroke="#ff4500" stroke-width="1.6"/><circle cx="575.00" cy="227.00" r="0.6" fill="#ff4500"/><path d="M579.40 226.18L575.10 233.15L583.70 233.15Z" fill="none" stroke="#ff4500" stroke-width="1.6"/><circle cx="579.40" cy="231.00" r="0.6" fill="#ff4500"/><path d="M583.60 224.18L579.30 231.15L587.90 231.15Z" fill="none" stroke="#ff4500" stroke-width="1.6"/><circle cx="583.60" cy="229.00" r="0.6" fill="#ff4500"/><path d="M587.60 225.78L583.30 232.75L591.90 232.75Z" fill="none" stroke="#ff4500" stroke-width="1.6"/><circle cx="587.60" cy="230.60" r="0.6" fill="#ff4500"/><path d="M592.00 231.78L587.70 238.75L596.30 238.75Z" fill="none" stroke="#ff4500" stroke-width="1.6"/><circle cx="592.00" cy="236.60" r="0.6" fill="#ff4500"/><path d="M596.00 228.18L591.70 235.15L600.30 235.15Z" fill="none" stroke="#ff4500" stroke-width="1.6"/><circle cx="596.00" cy="233.00" r="0.6" fill="#ff4500"/><path d="M600.00 225.18L595.70 232.15L604.30 232.15Z" fill="none" stroke="#ff4500" stroke-width="1.6"/><circle cx="600.00" cy="230.00" r="0.6" fill="#ff4500"/><path d="M604.40 233.18L600.10 240.15L608.70 240.15Z" fill="none" stroke="#ff4500" stroke-width="1.6"/><circle cx="604.40" cy="238.00" r="0.6" fill="#ff4500"/><path d="M609.00 235.18L604.70 242.15L613.30 242.15Z" fill="none" stroke="#ff4500" stroke-width="1.6"/><circle cx="609.00" cy="240.00" r="0.6" fill="#ff4500"/><path d="M613.00 233.18L608.70 240.15L617.30 240.15Z" fill="none" stroke="#ff4500" stroke-width="1.6"/><circle cx="613.00" cy="238.00" r="0.6" fill="#ff4500"/><path d="M616.60 241.18L612.30 248.15L620.90 248.15Z" fill="none" stroke="#ff4500" stroke-width="1.6"/><circle cx="616.60" cy="246.00" r="0.6" fill="#ff4500"/><path d="M621.00 248.78L616.70 255.75L625.30 255.75Z" fill="none" stroke="#ff4500" stroke-width="1.6"/><circle cx="621.00" cy="253.60" r="0.6" fill="#ff4500"/><path d="M625.00 251.58L620.70 258.55L629.30 258.55Z" fill="none" stroke="#ff4500" stroke-width="1.6"/><circle cx="625.00" cy="256.40" r="0.6" fill="#ff4500"/><path d="M629.40 257.58L625.10 264.55L633.70 264.55Z" fill="none" stroke="#ff4500" stroke-width="1.6"/><circle cx="629.40" cy="262.40" r="0.6" fill="#ff4500"/><path d="M633.40 266.78L629.10 273.75L637.70 273.75Z" fill="none" stroke="#ff4500" stroke-width="1.6"/><circle cx="633.40" cy="271.60" r="0.6" fill="#ff4500"/><path d="M637.60 271.18L633.30 278.15L641.90 278.15Z" fill="none" stroke="#ff4500" stroke-width="1.6"/><circle cx="637.60" cy="276.00" r="0.6" fill="#ff4500"/><path d="M641.60 274.58L637.30 281.55L645.90 281.55Z" fill="none" stroke="#ff4500" stroke-width="1.6"/><circle cx="641.60" cy="279.40" r="0.6" fill="#ff4500"/><path d="M645.60 281.18L641.30 288.15L649.90 288.15Z" fill="none" stroke="#ff4500" stroke-width="1.6"/><circle cx="645.60" cy="286.00" r="0.6" fill="#ff4500"/><path d="M650.00 285.18L645.70 292.15L654.30 292.15Z" fill="none" stroke="#ff4500" stroke-width="1.6"/><circle cx="650.00" cy="290.00" r="0.6" fill="#ff4500"/><path d="M654.00 284.58L649.70 291.55L658.30 291.55Z" fill="none" stroke="#ff4500" stroke-width="1.6"/><circle cx="654.00" cy="289.40" r="0.6" fill="#ff4500"/><path d="M658.00 290.58L653.70 297.55L662.30 297.55Z" fill="none" stroke="#ff4500" stroke-width="1.6"/><circle cx="658.00" cy="295.40" r="0.6" fill="#ff4500"/><path d="M662.60 293.78L658.30 300.75L666.90 300.75Z" fill="none" stroke="#ff4500" stroke-width="1.6"/><circle cx="662.60" cy="298.60" r="0.6" fill="#ff4500"/><path d="M667.00 292.18L662.70 299.15L671.30 299.15Z" fill="none" stroke="#ff4500" stroke-width="1.6"/><circle cx="667.00" cy="297.00" r="0.6" fill="#ff4500"/><path d="M670.60 301.78L666.30 308.75L674.90 308.75Z" fill="none" stroke="#ff4500" stroke-width="1.6"/><circle cx="670.60" cy="306.60" r="0.6" fill="#ff4500"/><path d="M675.00 307.78L670.70 314.75L679.30 314.75Z" fill="none" stroke="#ff4500" stroke-width="1.6"/><circle cx="675.00" cy="312.60" r="0.6" fill="#ff4500"/><path d="M679.40 307.78L675.10 314.75L683.70 314.75Z" fill="none" stroke="#ff4500" stroke-width="1.6"/><circle cx="679.40" cy="312.60" r="0.6" fill="#ff4500"/><path d="M683.40 321.18L679.10 328.15L687.70 328.15Z" fill="none" stroke="#ff4500" stroke-width="1.6"/><circle cx="683.40" cy="326.00" r="0.6" fill="#ff4500"/><path d="M687.60 328.18L683.30 335.15L691.90 335.15Z" fill="none" stroke="#ff4500" stroke-width="1.6"/><circle cx="687.60" cy="333.00" r="0.6" fill="#ff4500"/><path d="M692.00 335.18L687.70 342.15L696.30 342.15Z" fill="none" stroke="#ff4500" stroke-width="1.6"/><circle cx="692.00" cy="340.00" r="0.6" fill="#ff4500"/><path d="M696.00 344.68L691.70 351.65L700.30 351.65Z" fill="none" stroke="#ff4500" stroke-width="1.6"/><circle cx="696.00" cy="349.50" r="0.6" fill="#ff4500"/><path d="M700.40 351.78L696.10 358.75L704.70 358.75Z" fill="none" stroke="#ff4500" stroke-width="1.6"/><circle cx="700.40" cy="356.60" r="0.6" fill="#ff4500"/><path d="M704.40 365.18L700.10 372.15L708.70 372.15Z" fill="none" stroke="#ff4500" stroke-width="1.6"/><circle cx="704.40" cy="370.00" r="0.6" fill="#ff4500"/><path d="M708.60 370.58L704.30 377.55L712.90 377.55Z" fill="none" stroke="#ff4500" stroke-width="1.6"/><circle cx="708.60" cy="375.40" r="0.6" fill="#ff4500"/><path d="M712.60 379.78L708.30 386.75L716.90 386.75Z" fill="none" stroke="#ff4500" stroke-width="1.6"/><circle cx="712.60" cy="384.60" r="0.6" fill="#ff4500"/><path d="M716.60 388.78L712.30 395.75L720.90 395.75Z" fill="none" stroke="#ff4500" stroke-width="1.6"/><circle cx="716.60" cy="393.60" r="0.6" fill="#ff4500"/><path d="M721.00 395.58L716.70 402.55L725.30 402.55Z" fill="none" stroke="#ff4500" stroke-width="1.6"/><circle cx="721.00" cy="400.40" r="0.6" fill="#ff4500"/><path d="M725.00 404.58L720.70 411.55L729.30 411.55Z" fill="none" stroke="#ff4500" stroke-width="1.6"/><circle cx="725.00" cy="409.40" r="0.6" fill="#ff4500"/><path d="M729.40 408.18L725.10 415.15L733.70 415.15Z" fill="none" stroke="#ff4500" stroke-width="1.6"/><circle cx="729.40" cy="413.00" r="0.6" fill="#ff4500"/><path d="M733.40 418.58L729.10 425.55L737.70 425.55Z" fill="none" stroke="#ff4500" stroke-width="1.6"/><circle cx="733.40" cy="423.40" r="0.6" fill="#ff4500"/><path d="M738.00 422.58L733.70 429.55L742.30 429.55Z" fill="none" stroke="#ff4500" stroke-width="1.6"/><circle cx="738.00" cy="427.40" r="0.6" fill="#ff4500"/><path d="M741.60 432.78L737.30 439.75L745.90 439.75Z" fill="none" stroke="#ff4500" stroke-width="1.6"/><circle cx="741.60" cy="437.60" r="0.6" fill="#ff4500"/><path d="M746.00 435.18L741.70 442.15L750.30 442.15Z" fill="none" stroke="#ff4500" stroke-width="1.6"/><circle cx="746.00" cy="440.00" r="0.6" fill="#ff4500"/><path d="M750.00 444.58L745.70 451.55L754.30 451.55Z" fill="none" stroke="#ff4500" stroke-width="1.6"/><circle cx="750.00" cy="449.40" r="0.6" fill="#ff4500"/><path d="M754.40 446.78L750.10 453.75L758.70 453.75Z" fill="none" stroke="#ff4500" stroke-width="1.6"/><circle cx="754.40" cy="451.60" r="0.6" fill="#ff4500"/><path d="M758.40 455.58L754.10 462.55L762.70 462.55Z" fill="none" stroke="#ff4500" stroke-width="1.6"/><circle cx="758.40" cy="460.40" r="0.6" fill="#ff4500"/><path d="M762.60 457.58L758.30 464.55L766.90 464.55Z" fill="none" stroke="#ff4500" stroke-width="1.6"/><circle cx="762.60" cy="462.40" r="0.6" fill="#ff4500"/><path d="M767.00 463.58L762.70 470.55L771.30 470.55Z" fill="none" stroke="#ff4500" stroke-width="1.6"/><circle cx="767.00" cy="468.40" r="0.6" fill="#ff4500"/><path d="M771.16 470.11L766.86 477.08L775.46 477.08Z" fill="none" stroke="#ff4500" stroke-width="1.6"/><circle cx="771.16" cy="474.93" r="0.6" fill="#ff4500"/><path d="M775.32 476.15L771.02 483.11L779.62 483.11Z" fill="none" stroke="#ff4500" stroke-width="1.6"/><circle cx="775.32" cy="480.96" r="0.6" fill="#ff4500"/><path d="M779.48 480.83L775.18 487.79L783.78 487.79Z" fill="none" stroke="#ff4500" stroke-width="1.6"/><circle cx="779.48" cy="485.64" r="0.6" fill="#ff4500"/><path d="M783.64 485.43L779.34 492.39L787.94 492.39Z" fill="none" stroke="#ff4500" stroke-width="1.6"/><circle cx="783.64" cy="490.24" r="0.6" fill="#ff4500"/><path d="M787.80 489.59L783.50 496.55L792.10 496.55Z" fill="none" stroke="#ff4500" stroke-width="1.6"/><circle cx="787.80" cy="494.40" r="0.6" fill="#ff4500"/><path d="M791.97 493.93L787.67 500.90L796.27 500.90Z" fill="none" stroke="#ff4500" stroke-width="1.6"/><circle cx="791.97" cy="498.75" r="0.6" fill="#ff4500"/><path d="M796.13 498.69L791.83 505.65L800.43 505.65Z" fill="none" stroke="#ff4500" stroke-width="1.6"/><circle cx="796.13" cy="503.50" r="0.6" fill="#ff4500"/><path d="M800.29 503.41L795.99 510.37L804.59 510.37Z" fill="none" stroke="#ff4500" stroke-width="1.6"/><circle cx="800.29" cy="508.22" r="0.6" fill="#ff4500"/><path d="M804.45 508.09L800.15 515.05L808.75 515.05Z" fill="none" stroke="#ff4500" stroke-width="1.6"/><circle cx="804.45" cy="512.90" r="0.6" fill="#ff4500"/><path d="M808.61 512.59L804.31 519.56L812.91 519.56Z" fill="none" stroke="#ff4500" stroke-width="1.6"/><circle cx="808.61" cy="517.41" r="0.6" fill="#ff4500"/><path d="M812.77 516.75L808.47 523.72L817.07 523.72Z" fill="none" stroke="#ff4500" stroke-width="1.6"/><circle cx="812.77" cy="521.57" r="0.6" fill="#ff4500"/><path d="M816.93 520.91L812.63 527.88L821.23 527.88Z" fill="none" stroke="#ff4500" stroke-width="1.6"/><circle cx="816.93" cy="525.73" r="0.6" fill="#ff4500"/><path d="M821.09 525.08L816.79 532.04L825.39 532.04Z" fill="none" stroke="#ff4500" stroke-width="1.6"/><circle cx="821.09" cy="529.89" r="0.6" fill="#ff4500"/><path d="M825.25 529.12L820.95 536.09L829.55 536.09Z" fill="none" stroke="#ff4500" stroke-width="1.6"/><circle cx="825.25" cy="533.94" r="0.6" fill="#ff4500"/><path d="M829.41 532.24L825.11 539.21L833.71 539.21Z" fill="none" stroke="#ff4500" stroke-width="1.6"/><circle cx="829.41" cy="537.06" r="0.6" fill="#ff4500"/><path d="M833.57 535.36L829.27 542.33L837.87 542.33Z" fill="none" stroke="#ff4500" stroke-width="1.6"/><circle cx="833.57" cy="540.18" r="0.6" fill="#ff4500"/><path d="M837.73 537.45L833.43 544.42L842.03 544.42Z" fill="none" stroke="#ff4500" stroke-width="1.6"/><circle cx="837.73" cy="542.27" r="0.6" fill="#ff4500"/><path d="M841.90 539.53L837.60 546.50L846.20 546.50Z" fill="none" stroke="#ff4500" stroke-width="1.6"/><circle cx="841.90" cy="544.35" r="0.6" fill="#ff4500"/><path d="M846.06 541.94L841.76 548.91L850.36 548.91Z" fill="none" stroke="#ff4500" stroke-width="1.6"/><circle cx="846.06" cy="546.76" r="0.6" fill="#ff4500"/><path d="M850.22 544.40L845.92 551.37L854.52 551.37Z" fill="none" stroke="#ff4500" stroke-width="1.6"/><circle cx="850.22" cy="549.22" r="0.6" fill="#ff4500"/><path d="M854.38 546.72L850.08 553.69L858.68 553.69Z" fill="none" stroke="#ff4500" stroke-width="1.6"/><circle cx="854.38" cy="551.54" r="0.6" fill="#ff4500"/><path d="M858.54 548.57L854.24 555.54L862.84 555.54Z" fill="none" stroke="#ff4500" stroke-width="1.6"/><circle cx="858.54" cy="553.39" r="0.6" fill="#ff4500"/><path d="M862.70 550.43L858.40 557.39L867.00 557.39Z" fill="none" stroke="#ff4500" stroke-width="1.6"/><circle cx="862.70" cy="555.24" r="0.6" fill="#ff4500"/><path d="M866.86 552.53L862.56 559.49L871.16 559.49Z" fill="none" stroke="#ff4500" stroke-width="1.6"/><circle cx="866.86" cy="557.34" r="0.6" fill="#ff4500"/><path d="M871.02 554.80L866.72 561.76L875.32 561.76Z" fill="none" stroke="#ff4500" stroke-width="1.6"/><circle cx="871.02" cy="559.61" r="0.6" fill="#ff4500"/><path d="M875.18 557.07L870.88 564.03L879.48 564.03Z" fill="none" stroke="#ff4500" stroke-width="1.6"/><circle cx="875.18" cy="561.88" r="0.6" fill="#ff4500"/><path d="M879.34 559.81L875.04 566.78L883.64 566.78Z" fill="none" stroke="#ff4500" stroke-width="1.6"/><circle cx="879.34" cy="564.63" r="0.6" fill="#ff4500"/><path d="M883.50 562.59L879.20 569.55L887.80 569.55Z" fill="none" stroke="#ff4500" stroke-width="1.6"/><circle cx="883.50" cy="567.40" r="0.6" fill="#ff4500"/><path d="M887.67 565.70L883.37 572.67L891.97 572.67Z" fill="none" stroke="#ff4500" stroke-width="1.6"/><circle cx="887.67" cy="570.52" r="0.6" fill="#ff4500"/><path d="M891.83 568.60L887.53 575.57L896.13 575.57Z" fill="none" stroke="#ff4500" stroke-width="1.6"/><circle cx="891.83" cy="573.42" r="0.6" fill="#ff4500"/><path d="M895.99 571.08L891.69 578.04L900.29 578.04Z" fill="none" stroke="#ff4500" stroke-width="1.6"/><circle cx="895.99" cy="575.89" r="0.6" fill="#ff4500"/><path d="M900.15 573.17L895.85 580.14L904.45 580.14Z" fill="none" stroke="#ff4500" stroke-width="1.6"/><circle cx="900.15" cy="577.99" r="0.6" fill="#ff4500"/><path d="M904.31 575.59L900.01 582.56L908.61 582.56Z" fill="none" stroke="#ff4500" stroke-width="1.6"/><circle cx="904.31" cy="580.41" r="0.6" fill="#ff4500"/><path d="M908.47 578.07L904.17 585.03L912.77 585.03Z" fill="none" stroke="#ff4500" stroke-width="1.6"/><circle cx="908.47" cy="582.88" r="0.6" fill="#ff4500"/><path d="M912.63 580.05L908.33 587.02L916.93 587.02Z" fill="none" stroke="#ff4500" stroke-width="1.6"/><circle cx="912.63" cy="584.87" r="0.6" fill="#ff4500"/><path d="M916.79 581.08L912.49 588.05L921.09 588.05Z" fill="none" stroke="#ff4500" stroke-width="1.6"/><circle cx="916.79" cy="585.90" r="0.6" fill="#ff4500"/><path d="M920.95 582.27L916.65 589.24L925.25 589.24Z" fill="none" stroke="#ff4500" stroke-width="1.6"/><circle cx="920.95" cy="587.09" r="0.6" fill="#ff4500"/><path d="M925.11 583.56L920.81 590.52L929.41 590.52Z" fill="none" stroke="#ff4500" stroke-width="1.6"/><circle cx="925.11" cy="588.37" r="0.6" fill="#ff4500"/><path d="M929.27 584.39L924.97 591.36L933.57 591.36Z" fill="none" stroke="#ff4500" stroke-width="1.6"/><circle cx="929.27" cy="589.21" r="0.6" fill="#ff4500"/><path d="M933.43 584.78L929.13 591.74L937.73 591.74Z" fill="none" stroke="#ff4500" stroke-width="1.6"/><circle cx="933.43" cy="589.59" r="0.6" fill="#ff4500"/><path d="M937.60 585.56L933.30 592.53L941.90 592.53Z" fill="none" stroke="#ff4500" stroke-width="1.6"/><circle cx="937.60" cy="590.38" r="0.6" fill="#ff4500"/><path d="M941.76 586.08L937.46 593.04L946.06 593.04Z" fill="none" stroke="#ff4500" stroke-width="1.6"/><circle cx="941.76" cy="590.89" r="0.6" fill="#ff4500"/><path d="M945.92 586.57L941.62 593.54L950.22 593.54Z" fill="none" stroke="#ff4500" stroke-width="1.6"/><circle cx="945.92" cy="591.39" r="0.6" fill="#ff4500"/><path d="M950.08 587.06L945.78 594.02L954.38 594.02Z" fill="none" stroke="#ff4500" stroke-width="1.6"/><circle cx="950.08" cy="591.87" r="0.6" fill="#ff4500"/><path d="M954.24 587.74L949.94 594.71L958.54 594.71Z" fill="none" stroke="#ff4500" stroke-width="1.6"/><circle cx="954.24" cy="592.56" r="0.6" fill="#ff4500"/><path d="M958.40 588.08L954.10 595.04L962.70 595.04Z" fill="none" stroke="#ff4500" stroke-width="1.6"/><circle cx="958.40" cy="592.89" r="0.6" fill="#ff4500"/></g>
<rect x="693" y="31.5" width="255" height="156" fill="#fff"/>
<text transform="translate(863.30,50.00) rotate(0.03) scale(1,1.07)" text-anchor="end">e=0.01, i=0.3</text><path d="M877.6 41.90H935.7" stroke="#ff0000" stroke-width="1.6" fill="none"/><path d="M906.60 46.72L902.30 39.75L910.90 39.75Z" fill="#ff0000"/>
<text transform="translate(863.30,72.22) rotate(0.03) scale(1,1.07)" text-anchor="end">e=0.05, i=4.0</text><path d="M877.6 64.12H935.7" stroke="#00ff00" stroke-width="1.6" stroke-dasharray="3,1.5" fill="none"/><path d="M906.60 59.82L902.30 64.12L906.60 68.42L910.90 64.12Z" fill="none" stroke="#00ff00" stroke-width="1.6"/><circle cx="906.60" cy="64.12" r="0.6" fill="#00ff00"/>
<text transform="translate(863.30,94.44) rotate(0.03) scale(1,1.07)" text-anchor="end">e=0.05, i=8.0</text><path d="M877.6 86.34H935.7" stroke="#0000ff" stroke-width="1.6" stroke-dasharray="1.3,1.4" fill="none"/><path d="M906.60 82.04L902.30 86.34L906.60 90.64L910.90 86.34Z" fill="#0000ff"/>
<text transform="translate(863.30,116.66) rotate(0.03) scale(1,1.07)" text-anchor="end">e=0.3, i=0.0</text><path d="M877.6 108.56H935.7" stroke="#000000" stroke-width="1.6" stroke-dasharray="1.3,0.8,1.3,1.6" fill="none"/><circle cx="906.60" cy="108.56" r="4.5" fill="#000000"/>
<text transform="translate(863.30,138.88) rotate(0.03) scale(1,1.07)" text-anchor="end">e=0.3, i=0.5</text><path d="M877.6 130.78H935.7" stroke="#00ffff" stroke-width="1.6" stroke-dasharray="4,1.5,1.5,1.5" fill="none"/><circle cx="906.60" cy="130.78" r="3.95" fill="none" stroke="#00ffff" stroke-width="1.9"/><circle cx="906.60" cy="130.78" r="0.6" fill="#00ffff"/>
<text transform="translate(863.30,161.10) rotate(0.03) scale(1,1.07)" text-anchor="end">e=0.3, i=4.0</text><path d="M877.6 153.00H935.7" stroke="#ff00ff" stroke-width="1.6" stroke-dasharray="1.2,1.2" fill="none"/><rect x="902.30" y="148.70" width="8.60" height="8.60" fill="none" stroke="#ff00ff" stroke-width="1.6"/><circle cx="906.60" cy="153.00" r="0.6" fill="#ff00ff"/>
<text transform="translate(863.30,183.32) rotate(0.03) scale(1,1.07)" text-anchor="end">e=0.3, i=8.0</text><path d="M877.6 175.22H935.7" stroke="#ff4500" stroke-width="1.6" stroke-dasharray="1.3,1,1.3,1,1.3,2.2" fill="none"/><path d="M906.60 170.40L902.30 177.37L910.90 177.37Z" fill="none" stroke="#ff4500" stroke-width="1.6"/><circle cx="906.60" cy="175.22" r="0.6" fill="#ff4500"/>
<rect x="86.5" y="26.5" width="876.0" height="607.0" fill="none" stroke="#111" stroke-width="1.05"/>
<text transform="translate(524.20,696.30) rotate(0.03) scale(1.017,1.07)" text-anchor="middle">Time [Orbits]</text>
<text transform="translate(29.1,330.5) rotate(-90) scale(1.02,1.07)" text-anchor="middle">Inclination [deg]</text>
</svg></body></html>
